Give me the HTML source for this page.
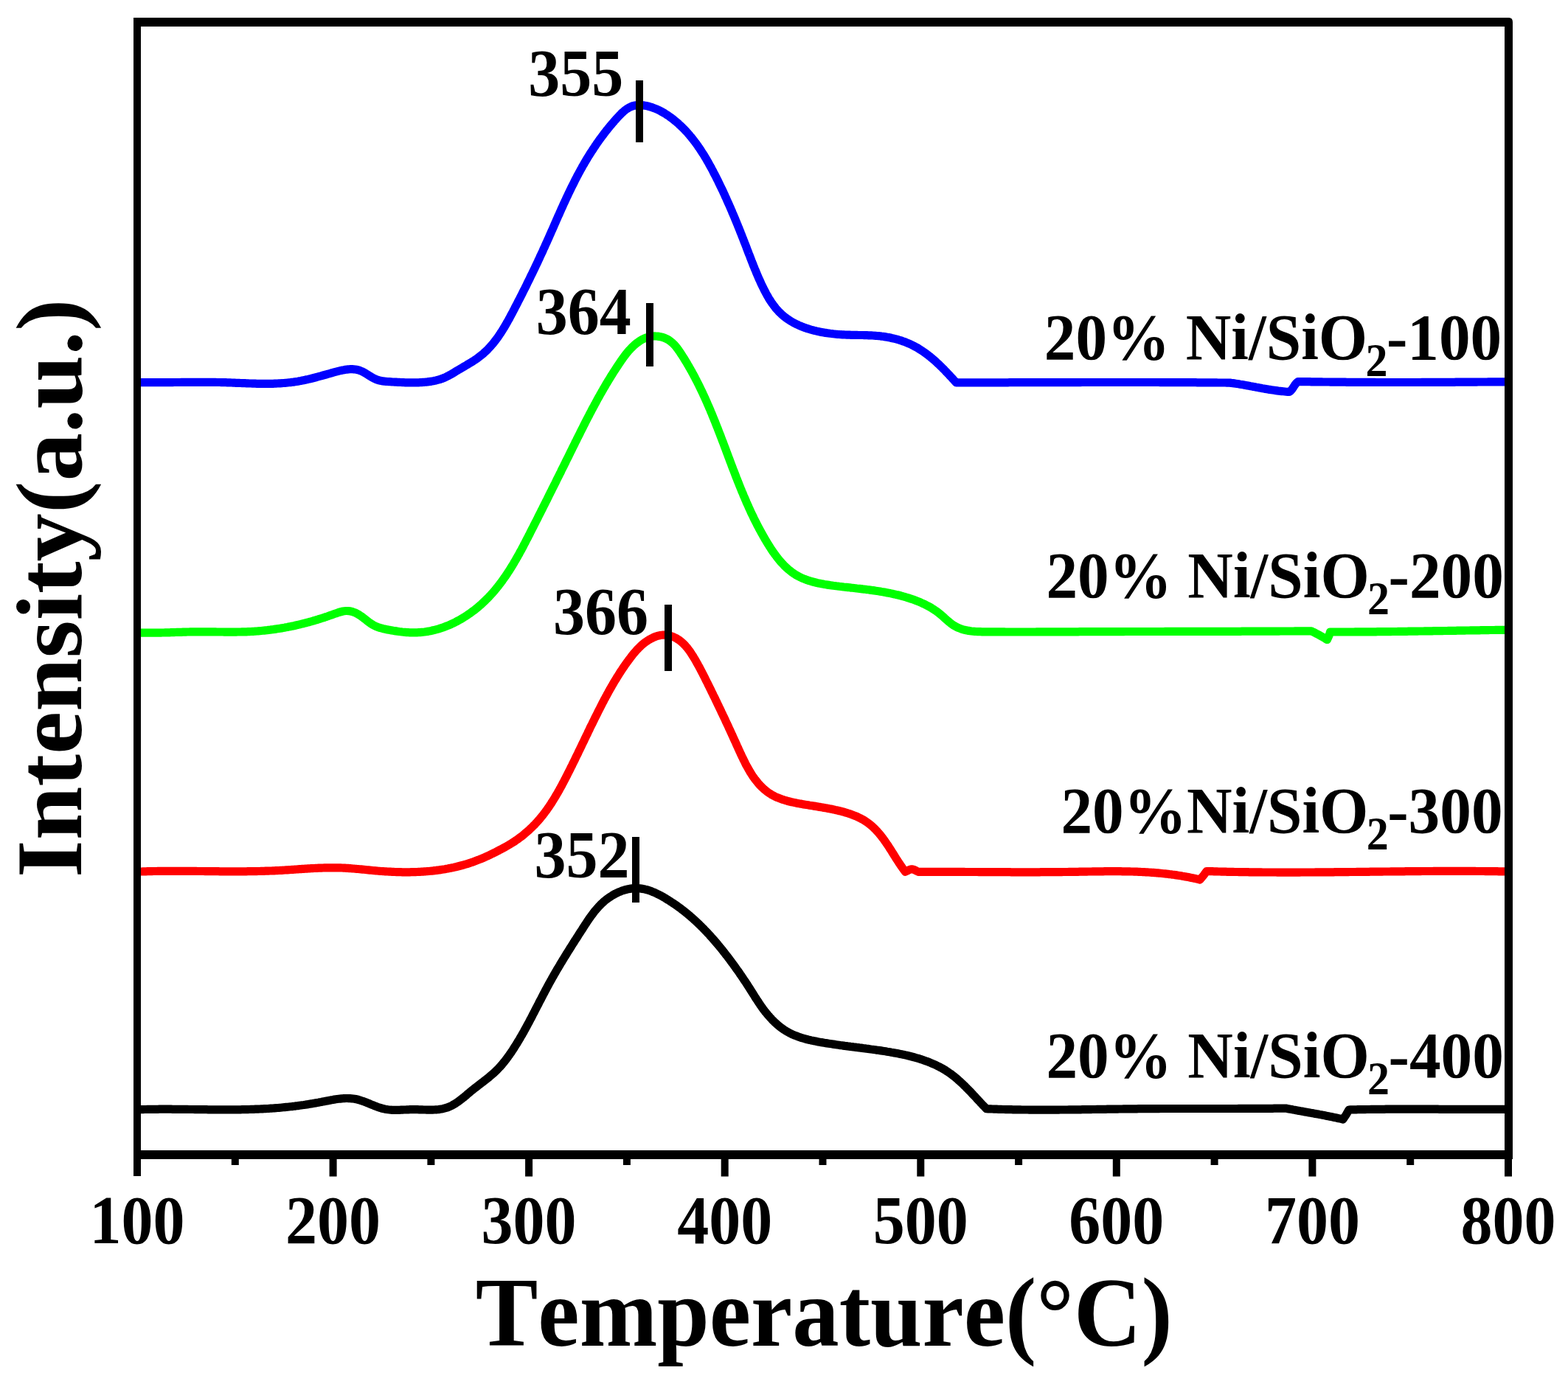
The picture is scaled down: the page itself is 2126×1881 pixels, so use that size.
<!DOCTYPE html>
<html><head><meta charset="utf-8"><title>TPR profiles</title>
<style>html,body{margin:0;padding:0;background:#fff;}svg{display:block;}</style>
</head><body>
<svg width="2126" height="1881" viewBox="0 0 2126 1881">
<rect x="0" y="0" width="2126" height="1881" fill="#fff"/>
<g fill="none" stroke-width="11.2" stroke-linejoin="round" stroke-linecap="butt">
<path d="M186.0,518.6 L188.0,518.6 L190.0,518.7 L192.0,518.7 L194.0,518.7 L196.0,518.7 L198.0,518.7 L200.0,518.7 L202.1,518.7 L204.1,518.7 L206.1,518.7 L208.1,518.7 L210.1,518.7 L212.1,518.7 L214.1,518.7 L216.1,518.7 L218.1,518.7 L220.1,518.7 L222.1,518.7 L224.1,518.6 L226.1,518.6 L228.1,518.6 L230.1,518.6 L232.1,518.6 L234.1,518.6 L236.1,518.5 L238.1,518.5 L240.1,518.5 L242.1,518.5 L244.1,518.5 L246.1,518.4 L248.1,518.4 L250.1,518.4 L252.1,518.4 L254.1,518.4 L256.1,518.3 L258.1,518.3 L260.1,518.3 L262.1,518.3 L264.1,518.3 L266.1,518.3 L268.1,518.3 L270.1,518.3 L272.1,518.3 L274.1,518.3 L276.1,518.3 L278.1,518.3 L280.1,518.3 L282.1,518.3 L284.1,518.3 L286.1,518.3 L288.1,518.4 L290.1,518.4 L292.1,518.4 L294.1,518.5 L296.1,518.5 L298.1,518.5 L300.1,518.6 L302.1,518.6 L304.1,518.7 L306.1,518.7 L308.1,518.8 L310.1,518.9 L312.1,518.9 L314.1,519.0 L316.1,519.1 L318.1,519.2 L320.1,519.3 L322.1,519.3 L324.2,519.4 L326.2,519.5 L328.2,519.6 L330.2,519.7 L332.2,519.7 L334.2,519.8 L336.2,519.9 L338.2,520.0 L340.2,520.0 L342.2,520.1 L344.2,520.2 L346.2,520.2 L348.2,520.3 L350.2,520.3 L352.2,520.3 L354.2,520.4 L356.2,520.4 L358.2,520.4 L360.2,520.4 L362.2,520.4 L364.2,520.4 L366.2,520.3 L368.2,520.3 L370.2,520.3 L372.2,520.2 L374.2,520.1 L376.2,520.0 L378.2,519.9 L380.2,519.8 L382.2,519.7 L384.1,519.5 L386.1,519.4 L388.1,519.2 L390.1,519.0 L392.1,518.8 L394.0,518.6 L396.0,518.3 L398.0,518.1 L400.0,517.8 L401.9,517.5 L403.9,517.2 L405.9,516.8 L407.8,516.5 L409.8,516.1 L411.7,515.7 L413.7,515.3 L415.7,514.8 L417.6,514.4 L419.6,513.9 L421.5,513.5 L423.5,513.0 L425.4,512.5 L427.4,512.0 L429.3,511.5 L431.3,510.9 L433.2,510.4 L435.2,509.9 L437.1,509.3 L439.1,508.8 L441.0,508.2 L443.0,507.7 L444.9,507.1 L446.9,506.6 L448.8,506.0 L450.8,505.5 L452.7,504.9 L454.7,504.4 L456.7,503.9 L458.6,503.4 L460.6,502.9 L462.5,502.4 L464.5,502.0 L466.4,501.7 L468.3,501.3 L470.2,501.1 L472.2,500.9 L474.1,500.7 L476.0,500.7 L477.8,500.7 L479.7,500.8 L481.6,501.0 L483.4,501.3 L485.2,501.7 L487.1,502.2 L488.8,502.9 L490.6,503.6 L492.4,504.5 L494.1,505.4 L495.9,506.5 L497.6,507.5 L499.3,508.6 L501.1,509.7 L502.8,510.8 L504.6,511.9 L506.3,512.8 L508.1,513.7 L510.0,514.5 L511.8,515.2 L513.7,515.8 L515.6,516.2 L517.5,516.6 L519.4,516.9 L521.4,517.2 L523.3,517.3 L525.3,517.5 L527.3,517.6 L529.3,517.7 L531.3,517.9 L533.3,518.0 L535.3,518.1 L537.3,518.2 L539.3,518.3 L541.4,518.4 L543.4,518.5 L545.4,518.6 L547.4,518.7 L549.4,518.8 L551.5,518.8 L553.5,518.9 L555.5,518.9 L557.5,518.9 L559.5,518.9 L561.6,518.9 L563.6,518.9 L565.6,518.8 L567.6,518.8 L569.6,518.7 L571.6,518.6 L573.6,518.4 L575.6,518.3 L577.6,518.1 L579.6,517.9 L581.5,517.6 L583.5,517.4 L585.4,517.0 L587.4,516.7 L589.3,516.3 L591.2,515.9 L593.1,515.4 L595.0,514.9 L596.9,514.3 L598.8,513.7 L600.6,513.0 L602.4,512.3 L604.2,511.5 L605.9,510.6 L607.7,509.7 L609.4,508.8 L611.2,507.8 L612.9,506.8 L614.6,505.8 L616.3,504.8 L618.0,503.7 L619.8,502.7 L621.5,501.6 L623.3,500.6 L625.0,499.6 L626.8,498.6 L628.5,497.5 L630.3,496.5 L632.0,495.5 L633.8,494.4 L635.5,493.4 L637.3,492.3 L639.0,491.3 L640.7,490.2 L642.4,489.1 L644.1,488.0 L645.8,486.9 L647.4,485.7 L649.0,484.5 L650.6,483.3 L652.2,482.1 L653.7,480.8 L655.2,479.6 L656.7,478.2 L658.1,476.9 L659.6,475.6 L661.0,474.2 L662.3,472.8 L663.7,471.3 L665.0,469.9 L666.3,468.4 L667.6,466.9 L668.9,465.4 L670.1,463.8 L671.3,462.3 L672.5,460.7 L673.7,459.1 L674.9,457.5 L676.0,455.9 L677.1,454.2 L678.2,452.6 L679.3,450.9 L680.4,449.2 L681.5,447.5 L682.5,445.8 L683.6,444.1 L684.6,442.4 L685.6,440.7 L686.6,438.9 L687.6,437.2 L688.6,435.4 L689.6,433.6 L690.6,431.9 L691.5,430.1 L692.5,428.3 L693.4,426.5 L694.4,424.7 L695.3,423.0 L696.2,421.2 L697.2,419.4 L698.1,417.6 L699.0,415.8 L700.0,414.0 L700.9,412.2 L701.8,410.4 L702.7,408.6 L703.6,406.9 L704.6,405.1 L705.5,403.3 L706.4,401.5 L707.3,399.7 L708.2,397.9 L709.1,396.1 L710.0,394.3 L710.9,392.5 L711.8,390.8 L712.7,389.0 L713.6,387.2 L714.4,385.4 L715.3,383.6 L716.2,381.8 L717.1,380.0 L718.0,378.2 L718.8,376.4 L719.7,374.6 L720.6,372.8 L721.5,371.0 L722.3,369.3 L723.2,367.5 L724.0,365.7 L724.9,363.9 L725.8,362.1 L726.6,360.3 L727.5,358.5 L728.3,356.7 L729.2,354.9 L730.0,353.0 L730.9,351.2 L731.7,349.4 L732.5,347.6 L733.4,345.8 L734.2,344.0 L735.1,342.2 L735.9,340.4 L736.7,338.6 L737.5,336.7 L738.4,334.9 L739.2,333.1 L740.0,331.3 L740.8,329.5 L741.7,327.6 L742.5,325.8 L743.3,324.0 L744.1,322.2 L744.9,320.3 L745.7,318.5 L746.5,316.7 L747.3,314.8 L748.1,313.0 L749.0,311.2 L749.8,309.3 L750.6,307.5 L751.4,305.6 L752.2,303.8 L753.0,302.0 L753.8,300.1 L754.6,298.3 L755.4,296.5 L756.2,294.6 L757.0,292.8 L757.9,291.0 L758.7,289.1 L759.5,287.3 L760.3,285.5 L761.1,283.6 L762.0,281.8 L762.8,280.0 L763.6,278.1 L764.4,276.3 L765.3,274.5 L766.1,272.7 L767.0,270.8 L767.8,269.0 L768.6,267.2 L769.5,265.4 L770.4,263.6 L771.2,261.8 L772.1,260.0 L772.9,258.2 L773.8,256.4 L774.7,254.6 L775.6,252.8 L776.5,251.0 L777.4,249.2 L778.3,247.4 L779.2,245.6 L780.1,243.8 L781.0,242.0 L781.9,240.3 L782.8,238.5 L783.8,236.7 L784.7,235.0 L785.7,233.2 L786.6,231.5 L787.6,229.7 L788.6,228.0 L789.5,226.2 L790.5,224.5 L791.5,222.8 L792.5,221.1 L793.5,219.3 L794.5,217.6 L795.6,215.9 L796.6,214.2 L797.6,212.5 L798.7,210.8 L799.7,209.1 L800.8,207.4 L801.9,205.7 L803.0,204.1 L804.1,202.4 L805.2,200.7 L806.3,199.1 L807.4,197.4 L808.5,195.8 L809.6,194.1 L810.8,192.5 L811.9,190.9 L813.1,189.2 L814.3,187.6 L815.5,186.0 L816.7,184.4 L817.9,182.8 L819.1,181.2 L820.3,179.6 L821.5,178.0 L822.8,176.4 L824.0,174.9 L825.3,173.3 L826.6,171.7 L827.9,170.2 L829.2,168.6 L830.5,167.1 L831.8,165.6 L833.1,164.0 L834.5,162.5 L835.8,161.0 L837.2,159.5 L838.6,158.0 L840.0,156.5 L841.4,155.1 L842.8,153.6 L844.3,152.3 L845.7,151.0 L847.3,149.7 L848.8,148.5 L850.4,147.4 L852.0,146.4 L853.7,145.5 L855.4,144.7 L857.1,144.0 L858.9,143.5 L860.8,143.1 L862.7,142.8 L864.6,142.6 L866.5,142.5 L868.5,142.6 L870.5,142.7 L872.5,142.9 L874.5,143.2 L876.5,143.6 L878.4,144.0 L880.4,144.5 L882.3,145.1 L884.3,145.7 L886.2,146.4 L888.0,147.1 L889.9,147.9 L891.8,148.7 L893.6,149.6 L895.4,150.5 L897.2,151.5 L899.0,152.5 L900.8,153.5 L902.5,154.6 L904.2,155.7 L905.9,156.8 L907.6,158.0 L909.2,159.2 L910.9,160.4 L912.5,161.6 L914.1,162.9 L915.6,164.2 L917.2,165.5 L918.7,166.8 L920.2,168.1 L921.6,169.5 L923.1,170.8 L924.5,172.2 L926.0,173.6 L927.4,175.0 L928.7,176.4 L930.1,177.9 L931.4,179.3 L932.8,180.8 L934.1,182.3 L935.3,183.8 L936.6,185.3 L937.9,186.9 L939.1,188.4 L940.3,190.0 L941.5,191.5 L942.7,193.1 L943.9,194.7 L945.1,196.3 L946.2,197.9 L947.3,199.6 L948.5,201.2 L949.6,202.9 L950.6,204.5 L951.7,206.2 L952.8,207.9 L953.9,209.5 L954.9,211.2 L955.9,212.9 L957.0,214.7 L958.0,216.4 L959.0,218.1 L960.0,219.8 L961.0,221.6 L961.9,223.3 L962.9,225.1 L963.9,226.8 L964.8,228.6 L965.8,230.4 L966.7,232.1 L967.6,233.9 L968.5,235.7 L969.5,237.5 L970.4,239.3 L971.3,241.1 L972.2,242.9 L973.1,244.6 L974.0,246.4 L974.8,248.3 L975.7,250.1 L976.6,251.9 L977.5,253.7 L978.3,255.5 L979.2,257.3 L980.1,259.1 L980.9,260.9 L981.8,262.8 L982.6,264.6 L983.4,266.4 L984.3,268.2 L985.1,270.1 L985.9,271.9 L986.7,273.7 L987.5,275.6 L988.4,277.4 L989.2,279.3 L990.0,281.1 L990.8,282.9 L991.6,284.8 L992.4,286.6 L993.1,288.5 L993.9,290.3 L994.7,292.2 L995.5,294.0 L996.3,295.9 L997.0,297.7 L997.8,299.6 L998.6,301.4 L999.3,303.3 L1000.1,305.1 L1000.8,307.0 L1001.6,308.8 L1002.3,310.7 L1003.1,312.6 L1003.8,314.4 L1004.5,316.3 L1005.3,318.1 L1006.0,320.0 L1006.7,321.8 L1007.5,323.7 L1008.2,325.6 L1008.9,327.4 L1009.6,329.3 L1010.4,331.1 L1011.1,333.0 L1011.8,334.8 L1012.5,336.7 L1013.2,338.6 L1013.9,340.4 L1014.6,342.3 L1015.3,344.1 L1016.1,346.0 L1016.8,347.8 L1017.5,349.7 L1018.2,351.5 L1018.9,353.4 L1019.6,355.2 L1020.4,357.1 L1021.1,358.9 L1021.8,360.8 L1022.6,362.6 L1023.3,364.5 L1024.1,366.3 L1024.9,368.2 L1025.6,370.0 L1026.4,371.9 L1027.2,373.7 L1028.0,375.6 L1028.8,377.4 L1029.6,379.3 L1030.5,381.1 L1031.3,383.0 L1032.1,384.8 L1033.0,386.7 L1033.9,388.5 L1034.8,390.3 L1035.7,392.2 L1036.6,394.0 L1037.6,395.8 L1038.5,397.6 L1039.5,399.4 L1040.5,401.2 L1041.5,402.9 L1042.5,404.7 L1043.6,406.4 L1044.7,408.1 L1045.8,409.8 L1046.9,411.4 L1048.1,413.0 L1049.3,414.6 L1050.5,416.2 L1051.7,417.8 L1053.0,419.3 L1054.3,420.7 L1055.6,422.2 L1057.0,423.6 L1058.4,424.9 L1059.8,426.3 L1061.2,427.5 L1062.7,428.8 L1064.2,430.0 L1065.8,431.2 L1067.4,432.3 L1069.0,433.4 L1070.6,434.5 L1072.2,435.5 L1073.9,436.5 L1075.6,437.5 L1077.4,438.4 L1079.1,439.3 L1080.9,440.1 L1082.7,441.0 L1084.5,441.8 L1086.3,442.5 L1088.2,443.3 L1090.0,444.0 L1091.9,444.7 L1093.8,445.3 L1095.7,445.9 L1097.6,446.5 L1099.6,447.1 L1101.5,447.6 L1103.5,448.2 L1105.5,448.6 L1107.5,449.1 L1109.5,449.6 L1111.5,450.0 L1113.5,450.4 L1115.5,450.7 L1117.5,451.1 L1119.5,451.4 L1121.6,451.7 L1123.6,452.0 L1125.6,452.3 L1127.7,452.5 L1129.7,452.8 L1131.8,453.0 L1133.8,453.2 L1135.8,453.4 L1137.9,453.5 L1139.9,453.7 L1141.9,453.8 L1144.0,453.9 L1146.0,454.0 L1148.0,454.1 L1150.0,454.2 L1152.0,454.2 L1154.0,454.3 L1156.0,454.3 L1157.9,454.4 L1159.9,454.4 L1161.9,454.4 L1163.9,454.5 L1165.8,454.5 L1167.8,454.5 L1169.7,454.5 L1171.7,454.6 L1173.7,454.6 L1175.6,454.7 L1177.6,454.8 L1179.5,454.8 L1181.5,454.9 L1183.4,455.0 L1185.4,455.2 L1187.3,455.3 L1189.3,455.5 L1191.3,455.6 L1193.2,455.8 L1195.2,456.1 L1197.2,456.3 L1199.1,456.6 L1201.1,456.9 L1203.1,457.3 L1205.1,457.6 L1207.1,458.0 L1209.0,458.5 L1211.0,458.9 L1213.0,459.4 L1214.9,459.9 L1216.9,460.4 L1218.8,461.0 L1220.8,461.6 L1222.7,462.2 L1224.6,462.9 L1226.5,463.6 L1228.4,464.3 L1230.3,465.1 L1232.1,465.9 L1234.0,466.7 L1235.8,467.5 L1237.6,468.4 L1239.4,469.3 L1241.1,470.3 L1242.9,471.2 L1244.6,472.2 L1246.3,473.3 L1248.0,474.3 L1249.6,475.4 L1251.3,476.5 L1252.9,477.6 L1254.6,478.8 L1256.2,480.0 L1257.8,481.2 L1259.3,482.4 L1260.9,483.6 L1262.4,484.9 L1264.0,486.2 L1265.5,487.5 L1267.0,488.8 L1268.5,490.1 L1270.0,491.5 L1271.4,492.8 L1272.9,494.2 L1274.4,495.6 L1275.8,497.0 L1277.2,498.4 L1278.6,499.8 L1280.1,501.2 L1281.5,502.7 L1282.8,504.1 L1284.2,505.6 L1285.6,507.0 L1287.0,508.5 L1288.3,510.0 L1289.7,511.4 L1291.0,512.9 L1292.4,514.4 L1293.7,515.9 L1295.1,517.3 L1296.4,518.8 L1298.4,518.8 L1300.4,518.8 L1302.4,518.8 L1304.4,518.8 L1306.4,518.8 L1308.4,518.8 L1310.4,518.8 L1312.4,518.8 L1314.4,518.8 L1316.5,518.8 L1318.5,518.8 L1320.5,518.8 L1322.5,518.8 L1324.5,518.8 L1326.5,518.8 L1328.5,518.8 L1330.5,518.8 L1332.5,518.8 L1334.5,518.8 L1336.5,518.8 L1338.5,518.8 L1340.5,518.8 L1342.5,518.8 L1344.5,518.8 L1346.5,518.8 L1348.5,518.8 L1350.5,518.8 L1352.6,518.8 L1354.6,518.8 L1356.6,518.8 L1358.6,518.8 L1360.6,518.8 L1362.6,518.8 L1364.6,518.8 L1366.6,518.8 L1368.6,518.7 L1370.6,518.7 L1372.6,518.7 L1374.6,518.7 L1376.6,518.7 L1378.6,518.7 L1380.6,518.7 L1382.6,518.7 L1384.6,518.7 L1386.6,518.7 L1388.6,518.7 L1390.7,518.7 L1392.7,518.7 L1394.7,518.7 L1396.7,518.7 L1398.7,518.7 L1400.7,518.7 L1402.7,518.7 L1404.7,518.7 L1406.7,518.7 L1408.7,518.7 L1410.7,518.7 L1412.7,518.7 L1414.7,518.7 L1416.7,518.7 L1418.7,518.6 L1420.7,518.6 L1422.7,518.6 L1424.7,518.6 L1426.8,518.6 L1428.8,518.6 L1430.8,518.6 L1432.8,518.6 L1434.8,518.6 L1436.8,518.6 L1438.8,518.6 L1440.8,518.6 L1442.8,518.6 L1444.8,518.6 L1446.8,518.6 L1448.8,518.6 L1450.8,518.6 L1452.8,518.6 L1454.8,518.6 L1456.8,518.6 L1458.8,518.6 L1460.8,518.6 L1462.8,518.6 L1464.9,518.6 L1466.9,518.5 L1468.9,518.5 L1470.9,518.5 L1472.9,518.5 L1474.9,518.5 L1476.9,518.5 L1478.9,518.5 L1480.9,518.5 L1482.9,518.5 L1484.9,518.5 L1486.9,518.5 L1488.9,518.5 L1490.9,518.5 L1492.9,518.5 L1494.9,518.5 L1496.9,518.5 L1498.9,518.5 L1501.0,518.5 L1503.0,518.5 L1505.0,518.5 L1507.0,518.5 L1509.0,518.5 L1511.0,518.5 L1513.0,518.5 L1515.0,518.5 L1517.0,518.5 L1519.0,518.5 L1521.0,518.5 L1523.0,518.5 L1525.0,518.5 L1527.0,518.5 L1529.0,518.5 L1531.0,518.5 L1533.0,518.5 L1535.0,518.5 L1537.0,518.5 L1539.1,518.5 L1541.1,518.5 L1543.1,518.5 L1545.1,518.5 L1547.1,518.5 L1549.1,518.5 L1551.1,518.5 L1553.1,518.5 L1555.1,518.5 L1557.1,518.5 L1559.1,518.5 L1561.1,518.5 L1563.1,518.5 L1565.1,518.5 L1567.1,518.5 L1569.1,518.5 L1571.1,518.5 L1573.1,518.6 L1575.2,518.6 L1577.2,518.6 L1579.2,518.6 L1581.2,518.6 L1583.2,518.6 L1585.2,518.6 L1587.2,518.6 L1589.2,518.6 L1591.2,518.6 L1593.2,518.6 L1595.2,518.6 L1597.2,518.6 L1599.2,518.6 L1601.2,518.6 L1603.2,518.7 L1605.2,518.7 L1607.2,518.7 L1609.2,518.7 L1611.2,518.7 L1613.3,518.7 L1615.3,518.7 L1617.3,518.7 L1619.3,518.7 L1621.3,518.7 L1623.3,518.8 L1625.3,518.8 L1627.3,518.8 L1629.3,518.8 L1631.3,518.8 L1633.3,518.8 L1635.3,518.8 L1637.3,518.9 L1639.3,518.9 L1641.3,518.9 L1643.3,518.9 L1645.3,518.9 L1647.3,518.9 L1649.4,518.9 L1651.4,519.0 L1653.4,519.0 L1655.4,519.0 L1657.4,519.0 L1659.4,519.0 L1661.4,519.0 L1663.4,519.1 L1665.4,519.1 L1667.4,519.1 L1669.4,519.4 L1671.4,519.6 L1673.5,519.9 L1675.5,520.2 L1677.5,520.5 L1679.5,520.8 L1681.5,521.2 L1683.5,521.5 L1685.5,521.8 L1687.5,522.2 L1689.6,522.6 L1691.6,522.9 L1693.6,523.3 L1695.6,523.7 L1697.6,524.0 L1699.6,524.4 L1701.6,524.8 L1703.6,525.2 L1705.6,525.5 L1707.6,525.9 L1709.6,526.3 L1711.6,526.7 L1713.6,527.0 L1715.7,527.4 L1717.7,527.7 L1719.7,528.1 L1721.7,528.4 L1723.7,528.7 L1725.7,529.0 L1727.7,529.3 L1729.8,529.6 L1731.8,529.9 L1733.8,530.2 L1735.8,530.4 L1737.8,530.6 L1739.9,530.8 L1741.9,531.0 L1743.9,531.2 L1746.0,531.4 L1748.0,531.5 L1749.7,530.2 L1751.1,528.8 L1752.4,527.2 L1753.5,525.4 L1754.6,523.7 L1755.7,522.0 L1757.0,520.3 L1758.4,518.8 L1760.0,517.5 L1762.0,517.5 L1764.0,517.6 L1766.0,517.6 L1768.0,517.6 L1770.0,517.6 L1772.0,517.7 L1774.0,517.7 L1776.0,517.7 L1778.0,517.8 L1780.0,517.8 L1782.0,517.8 L1784.0,517.8 L1786.0,517.9 L1788.0,517.9 L1790.0,517.9 L1792.0,517.9 L1794.0,518.0 L1796.0,518.0 L1798.0,518.0 L1800.0,518.0 L1802.0,518.0 L1804.0,518.1 L1806.0,518.1 L1808.0,518.1 L1810.0,518.1 L1812.0,518.1 L1814.0,518.2 L1816.0,518.2 L1818.0,518.2 L1820.0,518.2 L1822.0,518.2 L1824.0,518.2 L1826.0,518.3 L1828.0,518.3 L1830.0,518.3 L1832.0,518.3 L1834.0,518.3 L1836.0,518.3 L1838.0,518.3 L1840.0,518.3 L1842.0,518.4 L1844.0,518.4 L1846.0,518.4 L1848.0,518.4 L1850.0,518.4 L1852.0,518.4 L1854.0,518.4 L1856.0,518.4 L1858.0,518.4 L1860.0,518.4 L1862.0,518.4 L1864.0,518.4 L1866.0,518.5 L1868.0,518.5 L1870.0,518.5 L1872.0,518.5 L1874.0,518.5 L1876.0,518.5 L1878.0,518.5 L1880.0,518.5 L1882.0,518.5 L1884.0,518.5 L1886.0,518.5 L1888.0,518.5 L1890.0,518.5 L1892.0,518.5 L1894.0,518.5 L1896.0,518.5 L1898.0,518.5 L1900.0,518.5 L1902.0,518.5 L1904.0,518.5 L1906.0,518.5 L1908.0,518.5 L1910.0,518.5 L1912.0,518.5 L1914.0,518.5 L1916.0,518.5 L1918.0,518.5 L1920.0,518.5 L1922.0,518.5 L1924.0,518.5 L1926.0,518.5 L1928.0,518.4 L1930.0,518.4 L1932.0,518.4 L1934.0,518.4 L1936.0,518.4 L1938.0,518.4 L1940.0,518.4 L1942.0,518.4 L1944.0,518.4 L1946.0,518.4 L1948.0,518.4 L1950.0,518.4 L1952.0,518.4 L1954.0,518.4 L1956.0,518.3 L1958.0,518.3 L1960.0,518.3 L1962.0,518.3 L1964.0,518.3 L1966.0,518.3 L1968.0,518.3 L1970.0,518.3 L1972.0,518.3 L1974.0,518.2 L1976.0,518.2 L1978.0,518.2 L1980.0,518.2 L1982.0,518.2 L1984.0,518.2 L1986.0,518.2 L1988.0,518.2 L1990.0,518.1 L1992.0,518.1 L1994.0,518.1 L1996.0,518.1 L1998.0,518.1 L2000.0,518.1 L2002.0,518.1 L2004.0,518.0 L2006.0,518.0 L2008.0,518.0 L2010.0,518.0 L2012.0,518.0 L2014.0,518.0 L2016.0,518.0 L2018.0,517.9 L2020.0,517.9 L2022.0,517.9 L2024.0,517.9 L2026.0,517.9 L2028.0,517.9 L2030.0,517.8 L2032.0,517.8 L2034.0,517.8 L2036.0,517.8 L2038.0,517.8 L2040.0,517.8 L2042.0,517.7 L2044.0,517.7 L2046.0,517.7" stroke="#0000ff"/>
<path d="M186.0,857.9 L188.0,858.0 L190.0,858.0 L192.0,858.1 L194.0,858.1 L196.1,858.2 L198.1,858.2 L200.1,858.2 L202.1,858.2 L204.1,858.2 L206.1,858.2 L208.1,858.2 L210.1,858.2 L212.1,858.2 L214.1,858.2 L216.1,858.1 L218.1,858.1 L220.1,858.0 L222.1,858.0 L224.1,857.9 L226.0,857.9 L228.0,857.8 L230.0,857.8 L232.0,857.7 L234.0,857.6 L236.0,857.6 L238.0,857.5 L240.0,857.4 L242.0,857.4 L244.0,857.3 L246.0,857.3 L248.0,857.2 L250.0,857.1 L252.0,857.1 L254.0,857.0 L256.0,857.0 L258.0,856.9 L260.0,856.9 L262.0,856.9 L264.0,856.8 L266.0,856.8 L268.0,856.8 L270.0,856.8 L272.0,856.8 L274.0,856.8 L276.0,856.8 L278.0,856.8 L280.0,856.8 L282.0,856.8 L284.0,856.8 L286.0,856.9 L288.0,856.9 L290.0,856.9 L292.1,856.9 L294.1,857.0 L296.1,857.0 L298.1,857.0 L300.1,857.0 L302.1,857.0 L304.1,857.1 L306.1,857.1 L308.1,857.1 L310.1,857.1 L312.2,857.1 L314.2,857.1 L316.2,857.1 L318.2,857.1 L320.2,857.1 L322.2,857.0 L324.2,857.0 L326.2,857.0 L328.2,856.9 L330.2,856.9 L332.2,856.8 L334.2,856.8 L336.2,856.7 L338.2,856.6 L340.2,856.5 L342.2,856.4 L344.2,856.3 L346.2,856.1 L348.2,856.0 L350.1,855.8 L352.1,855.7 L354.1,855.5 L356.1,855.3 L358.1,855.1 L360.0,854.9 L362.0,854.7 L364.0,854.4 L366.0,854.2 L367.9,853.9 L369.9,853.7 L371.9,853.4 L373.9,853.1 L375.8,852.8 L377.8,852.5 L379.8,852.2 L381.7,851.9 L383.7,851.5 L385.6,851.2 L387.6,850.8 L389.6,850.5 L391.5,850.1 L393.5,849.7 L395.4,849.3 L397.4,848.9 L399.3,848.5 L401.3,848.0 L403.2,847.6 L405.2,847.1 L407.1,846.7 L409.0,846.2 L411.0,845.7 L412.9,845.2 L414.9,844.7 L416.8,844.2 L418.8,843.7 L420.7,843.1 L422.6,842.6 L424.6,842.0 L426.5,841.5 L428.4,840.9 L430.4,840.3 L432.3,839.7 L434.2,839.1 L436.1,838.5 L438.1,837.9 L440.0,837.3 L441.9,836.6 L443.8,836.0 L445.8,835.3 L447.7,834.6 L449.6,833.9 L451.5,833.2 L453.4,832.5 L455.4,831.9 L457.3,831.2 L459.2,830.5 L461.1,830.0 L463.0,829.5 L464.9,829.0 L466.8,828.7 L468.7,828.5 L470.6,828.5 L472.5,828.6 L474.4,828.8 L476.2,829.2 L478.1,829.7 L479.9,830.4 L481.8,831.1 L483.6,832.0 L485.3,832.9 L487.1,834.0 L488.8,835.1 L490.5,836.2 L492.2,837.5 L493.8,838.8 L495.5,840.0 L497.1,841.3 L498.7,842.6 L500.3,843.9 L502.0,845.0 L503.6,846.2 L505.3,847.2 L507.0,848.1 L508.7,849.0 L510.5,849.8 L512.3,850.5 L514.1,851.1 L515.9,851.7 L517.8,852.2 L519.6,852.7 L521.5,853.1 L523.4,853.5 L525.4,853.9 L527.3,854.2 L529.3,854.6 L531.2,854.9 L533.2,855.3 L535.2,855.6 L537.2,855.9 L539.2,856.2 L541.3,856.5 L543.3,856.7 L545.3,857.0 L547.3,857.2 L549.4,857.4 L551.4,857.6 L553.5,857.7 L555.5,857.8 L557.5,857.9 L559.5,857.9 L561.6,857.9 L563.6,857.9 L565.6,857.8 L567.6,857.7 L569.6,857.6 L571.6,857.4 L573.6,857.2 L575.5,857.0 L577.5,856.7 L579.5,856.4 L581.4,856.0 L583.4,855.7 L585.3,855.3 L587.3,854.8 L589.2,854.3 L591.1,853.8 L593.0,853.3 L594.9,852.8 L596.8,852.2 L598.7,851.6 L600.6,850.9 L602.5,850.2 L604.3,849.5 L606.2,848.8 L608.0,848.1 L609.8,847.3 L611.7,846.5 L613.5,845.6 L615.3,844.8 L617.1,843.9 L618.8,843.0 L620.6,842.0 L622.3,841.1 L624.1,840.1 L625.8,839.1 L627.5,838.1 L629.2,837.0 L630.9,836.0 L632.6,834.9 L634.3,833.8 L635.9,832.6 L637.6,831.5 L639.2,830.3 L640.8,829.1 L642.4,827.9 L644.0,826.7 L645.5,825.4 L647.1,824.2 L648.6,822.9 L650.2,821.6 L651.7,820.3 L653.2,818.9 L654.6,817.6 L656.1,816.2 L657.5,814.8 L659.0,813.4 L660.4,812.0 L661.8,810.6 L663.2,809.2 L664.5,807.7 L665.9,806.2 L667.2,804.8 L668.5,803.3 L669.8,801.8 L671.1,800.3 L672.4,798.7 L673.6,797.2 L674.9,795.7 L676.1,794.1 L677.3,792.5 L678.5,791.0 L679.7,789.4 L680.9,787.8 L682.0,786.2 L683.2,784.5 L684.3,782.9 L685.5,781.3 L686.6,779.6 L687.7,778.0 L688.8,776.3 L689.9,774.6 L691.0,773.0 L692.0,771.3 L693.1,769.6 L694.1,767.9 L695.2,766.2 L696.2,764.5 L697.2,762.7 L698.2,761.0 L699.2,759.3 L700.2,757.6 L701.2,755.8 L702.2,754.1 L703.2,752.3 L704.2,750.6 L705.1,748.8 L706.1,747.0 L707.1,745.3 L708.0,743.5 L709.0,741.7 L709.9,739.9 L710.8,738.2 L711.8,736.4 L712.7,734.6 L713.6,732.8 L714.5,731.0 L715.5,729.2 L716.4,727.4 L717.3,725.7 L718.2,723.9 L719.1,722.1 L720.0,720.3 L720.9,718.5 L721.8,716.7 L722.8,714.9 L723.7,713.1 L724.6,711.3 L725.5,709.5 L726.4,707.7 L727.3,706.0 L728.2,704.2 L729.1,702.4 L730.0,700.6 L730.9,698.8 L731.8,697.0 L732.7,695.2 L733.6,693.4 L734.5,691.7 L735.4,689.9 L736.3,688.1 L737.2,686.3 L738.1,684.5 L739.0,682.7 L739.9,680.9 L740.8,679.2 L741.7,677.4 L742.6,675.6 L743.5,673.8 L744.3,672.0 L745.2,670.2 L746.1,668.4 L747.0,666.7 L747.9,664.9 L748.8,663.1 L749.7,661.3 L750.6,659.5 L751.5,657.7 L752.4,656.0 L753.3,654.2 L754.1,652.4 L755.0,650.6 L755.9,648.8 L756.8,647.0 L757.7,645.2 L758.6,643.4 L759.5,641.7 L760.4,639.9 L761.2,638.1 L762.1,636.3 L763.0,634.5 L763.9,632.7 L764.8,630.9 L765.7,629.1 L766.6,627.4 L767.4,625.6 L768.3,623.8 L769.2,622.0 L770.1,620.2 L771.0,618.4 L771.9,616.6 L772.8,614.8 L773.6,613.0 L774.5,611.2 L775.4,609.4 L776.3,607.6 L777.2,605.8 L778.1,604.0 L779.0,602.2 L779.8,600.4 L780.7,598.7 L781.6,596.9 L782.5,595.1 L783.4,593.3 L784.3,591.5 L785.2,589.7 L786.1,587.9 L787.0,586.1 L787.9,584.3 L788.8,582.5 L789.7,580.7 L790.6,578.9 L791.5,577.1 L792.4,575.4 L793.3,573.6 L794.2,571.8 L795.1,570.0 L796.0,568.2 L797.0,566.4 L797.9,564.7 L798.8,562.9 L799.7,561.1 L800.7,559.3 L801.6,557.6 L802.5,555.8 L803.5,554.0 L804.4,552.2 L805.4,550.5 L806.3,548.7 L807.3,547.0 L808.2,545.2 L809.2,543.4 L810.1,541.7 L811.1,539.9 L812.1,538.2 L813.1,536.4 L814.0,534.7 L815.0,533.0 L816.0,531.2 L817.0,529.5 L818.0,527.7 L819.0,526.0 L820.0,524.3 L821.0,522.6 L822.0,520.8 L823.1,519.1 L824.1,517.4 L825.1,515.7 L826.2,514.0 L827.2,512.3 L828.2,510.6 L829.3,508.9 L830.4,507.2 L831.4,505.5 L832.5,503.8 L833.6,502.2 L834.7,500.5 L835.8,498.8 L836.9,497.1 L838.0,495.5 L839.1,493.8 L840.2,492.2 L841.3,490.5 L842.4,488.9 L843.6,487.2 L844.7,485.6 L845.9,484.0 L847.1,482.4 L848.3,480.8 L849.5,479.3 L850.8,477.7 L852.1,476.2 L853.4,474.7 L854.8,473.2 L856.1,471.8 L857.6,470.4 L859.0,469.0 L860.5,467.6 L862.1,466.3 L863.7,465.1 L865.3,463.9 L866.9,462.7 L868.6,461.6 L870.4,460.6 L872.2,459.7 L874.0,458.9 L875.8,458.1 L877.7,457.5 L879.7,456.9 L881.6,456.5 L883.6,456.2 L885.6,456.0 L887.7,455.9 L889.7,456.0 L891.7,456.1 L893.7,456.4 L895.7,456.8 L897.7,457.2 L899.6,457.8 L901.4,458.5 L903.3,459.3 L905.0,460.2 L906.7,461.2 L908.3,462.3 L909.8,463.4 L911.3,464.7 L912.7,466.0 L914.1,467.4 L915.4,468.8 L916.6,470.3 L917.9,471.9 L919.1,473.4 L920.2,475.1 L921.4,476.7 L922.5,478.4 L923.6,480.1 L924.7,481.8 L925.8,483.5 L926.9,485.2 L927.9,486.9 L929.0,488.6 L930.0,490.3 L931.1,492.0 L932.1,493.8 L933.1,495.5 L934.1,497.2 L935.1,499.0 L936.1,500.7 L937.1,502.5 L938.1,504.2 L939.0,506.0 L940.0,507.7 L940.9,509.5 L941.9,511.3 L942.8,513.1 L943.7,514.8 L944.6,516.6 L945.6,518.4 L946.5,520.2 L947.4,522.0 L948.2,523.8 L949.1,525.6 L950.0,527.4 L950.9,529.2 L951.7,531.0 L952.6,532.8 L953.4,534.6 L954.3,536.5 L955.1,538.3 L955.9,540.1 L956.8,541.9 L957.6,543.8 L958.4,545.6 L959.2,547.4 L960.0,549.3 L960.8,551.1 L961.6,553.0 L962.4,554.8 L963.2,556.6 L963.9,558.5 L964.7,560.3 L965.5,562.2 L966.2,564.1 L967.0,565.9 L967.8,567.8 L968.5,569.6 L969.3,571.5 L970.0,573.3 L970.7,575.2 L971.5,577.1 L972.2,578.9 L973.0,580.8 L973.7,582.7 L974.4,584.5 L975.1,586.4 L975.9,588.3 L976.6,590.1 L977.3,592.0 L978.0,593.9 L978.7,595.7 L979.4,597.6 L980.2,599.5 L980.9,601.4 L981.6,603.2 L982.3,605.1 L983.0,607.0 L983.7,608.8 L984.4,610.7 L985.1,612.6 L985.8,614.5 L986.5,616.3 L987.2,618.2 L987.9,620.1 L988.6,621.9 L989.3,623.8 L990.0,625.7 L990.7,627.5 L991.4,629.4 L992.1,631.3 L992.8,633.1 L993.5,635.0 L994.2,636.8 L995.0,638.7 L995.7,640.6 L996.4,642.4 L997.1,644.3 L997.8,646.1 L998.5,648.0 L999.3,649.8 L1000.0,651.7 L1000.7,653.5 L1001.5,655.4 L1002.2,657.2 L1002.9,659.1 L1003.7,660.9 L1004.4,662.8 L1005.2,664.6 L1005.9,666.5 L1006.7,668.3 L1007.5,670.1 L1008.2,672.0 L1009.0,673.8 L1009.8,675.6 L1010.6,677.5 L1011.4,679.3 L1012.1,681.1 L1013.0,683.0 L1013.8,684.8 L1014.6,686.6 L1015.4,688.4 L1016.2,690.2 L1017.1,692.1 L1017.9,693.9 L1018.7,695.7 L1019.6,697.5 L1020.5,699.3 L1021.3,701.1 L1022.2,702.9 L1023.1,704.7 L1024.0,706.5 L1024.9,708.3 L1025.8,710.1 L1026.7,711.9 L1027.6,713.6 L1028.6,715.4 L1029.5,717.2 L1030.5,719.0 L1031.4,720.7 L1032.4,722.5 L1033.4,724.3 L1034.4,726.1 L1035.4,727.8 L1036.4,729.6 L1037.4,731.3 L1038.5,733.1 L1039.5,734.8 L1040.6,736.6 L1041.6,738.3 L1042.7,740.0 L1043.8,741.8 L1044.9,743.5 L1046.0,745.2 L1047.2,746.9 L1048.3,748.6 L1049.5,750.2 L1050.7,751.9 L1051.9,753.5 L1053.1,755.1 L1054.3,756.7 L1055.6,758.3 L1056.9,759.8 L1058.1,761.4 L1059.5,762.9 L1060.8,764.3 L1062.2,765.8 L1063.5,767.2 L1064.9,768.6 L1066.4,769.9 L1067.8,771.2 L1069.3,772.5 L1070.8,773.7 L1072.3,774.9 L1073.8,776.1 L1075.4,777.2 L1077.0,778.3 L1078.6,779.3 L1080.3,780.3 L1082.0,781.2 L1083.7,782.1 L1085.4,783.0 L1087.2,783.8 L1089.0,784.6 L1090.8,785.3 L1092.6,786.0 L1094.4,786.7 L1096.3,787.3 L1098.2,787.9 L1100.1,788.5 L1102.0,789.0 L1103.9,789.5 L1105.9,790.0 L1107.8,790.5 L1109.8,790.9 L1111.8,791.3 L1113.8,791.7 L1115.8,792.1 L1117.8,792.5 L1119.8,792.8 L1121.8,793.1 L1123.8,793.4 L1125.8,793.7 L1127.8,794.0 L1129.8,794.3 L1131.9,794.5 L1133.9,794.8 L1135.9,795.0 L1137.9,795.3 L1139.9,795.5 L1141.9,795.7 L1143.9,796.0 L1145.9,796.2 L1147.9,796.4 L1149.9,796.6 L1151.9,796.8 L1153.9,797.1 L1155.8,797.3 L1157.8,797.5 L1159.8,797.7 L1161.8,798.0 L1163.7,798.2 L1165.7,798.4 L1167.7,798.6 L1169.7,798.9 L1171.6,799.1 L1173.6,799.3 L1175.5,799.6 L1177.5,799.8 L1179.5,800.1 L1181.4,800.4 L1183.4,800.6 L1185.4,800.9 L1187.3,801.2 L1189.3,801.5 L1191.2,801.8 L1193.2,802.1 L1195.2,802.5 L1197.1,802.8 L1199.1,803.1 L1201.1,803.5 L1203.0,803.9 L1205.0,804.2 L1207.0,804.6 L1209.0,805.1 L1210.9,805.5 L1212.9,805.9 L1214.9,806.4 L1216.8,806.8 L1218.8,807.3 L1220.8,807.8 L1222.7,808.3 L1224.7,808.9 L1226.6,809.4 L1228.6,810.0 L1230.5,810.6 L1232.4,811.2 L1234.3,811.8 L1236.2,812.4 L1238.1,813.1 L1240.0,813.8 L1241.9,814.5 L1243.8,815.2 L1245.6,815.9 L1247.4,816.7 L1249.2,817.5 L1251.0,818.3 L1252.8,819.1 L1254.6,820.0 L1256.3,820.9 L1258.1,821.8 L1259.8,822.7 L1261.5,823.7 L1263.2,824.7 L1264.8,825.7 L1266.5,826.8 L1268.1,827.9 L1269.8,829.0 L1271.4,830.2 L1273.0,831.5 L1274.6,832.7 L1276.1,834.0 L1277.7,835.4 L1279.3,836.8 L1280.8,838.2 L1282.4,839.6 L1283.9,841.0 L1285.5,842.3 L1287.1,843.7 L1288.7,845.0 L1290.3,846.2 L1292.0,847.4 L1293.6,848.4 L1295.3,849.4 L1297.1,850.4 L1298.8,851.2 L1300.6,851.9 L1302.4,852.6 L1304.2,853.3 L1306.1,853.8 L1307.9,854.3 L1309.8,854.7 L1311.7,855.1 L1313.6,855.4 L1315.6,855.7 L1317.5,856.0 L1319.5,856.2 L1321.4,856.3 L1323.4,856.5 L1325.4,856.6 L1327.4,856.7 L1329.4,856.7 L1331.4,856.8 L1333.4,856.8 L1335.5,856.8 L1337.5,856.8 L1339.5,856.9 L1341.5,856.9 L1343.5,856.9 L1345.5,856.9 L1347.6,856.9 L1349.6,856.9 L1351.6,856.9 L1353.6,856.9 L1355.6,856.9 L1357.6,856.9 L1359.6,856.9 L1361.6,856.9 L1363.6,857.0 L1365.7,857.0 L1367.7,857.0 L1369.7,857.0 L1371.7,857.0 L1373.7,857.0 L1375.7,857.0 L1377.7,857.0 L1379.7,857.0 L1381.7,857.0 L1383.7,857.0 L1385.7,857.0 L1387.7,857.0 L1389.7,857.0 L1391.7,857.0 L1393.8,857.0 L1395.8,857.0 L1397.8,857.0 L1399.8,857.0 L1401.8,857.0 L1403.8,857.0 L1405.8,856.9 L1407.8,856.9 L1409.8,856.9 L1411.8,856.9 L1413.8,856.9 L1415.8,856.9 L1417.8,856.9 L1419.8,856.9 L1421.8,856.9 L1423.8,856.9 L1425.8,856.9 L1427.8,856.9 L1429.8,856.9 L1431.8,856.9 L1433.8,856.9 L1435.8,856.9 L1437.8,856.8 L1439.8,856.8 L1441.8,856.8 L1443.8,856.8 L1445.8,856.8 L1447.8,856.8 L1449.8,856.8 L1451.8,856.8 L1453.8,856.8 L1455.8,856.8 L1457.8,856.8 L1459.8,856.8 L1461.8,856.8 L1463.8,856.7 L1465.8,856.7 L1467.8,856.7 L1469.8,856.7 L1471.7,856.7 L1473.7,856.7 L1475.7,856.7 L1477.7,856.7 L1479.7,856.7 L1481.7,856.7 L1483.7,856.7 L1485.7,856.7 L1487.7,856.7 L1489.7,856.6 L1491.7,856.6 L1493.7,856.6 L1495.7,856.6 L1497.7,856.6 L1499.7,856.6 L1501.7,856.6 L1503.7,856.6 L1505.7,856.6 L1507.7,856.6 L1509.7,856.6 L1511.7,856.6 L1513.7,856.6 L1515.7,856.6 L1517.7,856.6 L1519.7,856.6 L1521.7,856.6 L1523.7,856.6 L1525.7,856.5 L1527.7,856.5 L1529.7,856.5 L1531.7,856.5 L1533.7,856.5 L1535.7,856.5 L1537.7,856.5 L1539.7,856.5 L1541.7,856.5 L1543.7,856.5 L1545.7,856.5 L1547.7,856.5 L1549.8,856.5 L1551.8,856.5 L1553.8,856.5 L1555.8,856.5 L1557.8,856.5 L1559.8,856.5 L1561.8,856.5 L1563.8,856.5 L1565.8,856.5 L1567.8,856.5 L1569.8,856.5 L1571.8,856.5 L1573.8,856.5 L1575.8,856.5 L1577.8,856.5 L1579.8,856.4 L1581.8,856.4 L1583.8,856.4 L1585.8,856.4 L1587.8,856.4 L1589.8,856.4 L1591.8,856.4 L1593.8,856.4 L1595.8,856.4 L1597.8,856.4 L1599.8,856.4 L1601.8,856.4 L1603.8,856.4 L1605.8,856.4 L1607.8,856.4 L1609.8,856.4 L1611.8,856.4 L1613.8,856.4 L1615.8,856.4 L1617.8,856.4 L1619.8,856.4 L1621.8,856.4 L1623.8,856.4 L1625.8,856.4 L1627.8,856.4 L1629.8,856.4 L1631.8,856.4 L1633.8,856.4 L1635.8,856.4 L1637.8,856.4 L1639.8,856.4 L1641.8,856.3 L1643.8,856.3 L1645.9,856.3 L1647.9,856.3 L1649.9,856.3 L1651.9,856.3 L1653.9,856.3 L1655.9,856.3 L1657.9,856.3 L1659.9,856.3 L1661.9,856.3 L1663.9,856.3 L1665.9,856.3 L1667.9,856.3 L1669.9,856.3 L1671.9,856.3 L1673.9,856.3 L1675.9,856.3 L1677.9,856.3 L1679.9,856.3 L1681.9,856.3 L1683.9,856.2 L1685.9,856.2 L1687.9,856.2 L1689.9,856.2 L1691.9,856.2 L1693.9,856.2 L1695.9,856.2 L1697.9,856.2 L1699.9,856.2 L1701.9,856.2 L1703.9,856.2 L1705.9,856.2 L1707.9,856.2 L1709.9,856.2 L1711.9,856.2 L1713.9,856.1 L1715.9,856.1 L1717.9,856.1 L1719.9,856.1 L1721.9,856.1 L1723.9,856.1 L1725.9,856.1 L1727.9,856.1 L1729.9,856.1 L1731.9,856.1 L1733.9,856.1 L1735.9,856.0 L1737.9,856.0 L1739.9,856.0 L1741.9,856.0 L1743.9,856.0 L1745.9,856.0 L1747.9,856.0 L1749.9,856.0 L1751.9,856.0 L1753.9,856.0 L1755.9,855.9 L1757.9,855.9 L1759.9,855.9 L1761.9,855.9 L1763.9,855.9 L1765.9,855.9 L1767.9,855.9 L1769.9,855.9 L1771.9,855.8 L1773.9,855.8 L1775.9,855.8 L1777.9,855.8 L1779.8,856.7 L1781.6,857.6 L1783.4,858.5 L1785.2,859.4 L1787.1,860.4 L1788.9,861.4 L1790.6,862.4 L1792.4,863.4 L1794.2,864.4 L1796.0,865.4 L1797.7,866.5 L1799.5,867.5 L1802.0,862.0 L1803.5,857.0 L1805.5,857.0 L1807.5,857.0 L1809.5,857.0 L1811.5,857.0 L1813.5,857.0 L1815.5,857.0 L1817.5,857.0 L1819.5,857.0 L1821.5,857.0 L1823.5,857.0 L1825.5,857.0 L1827.5,857.0 L1829.5,857.0 L1831.5,857.0 L1833.5,857.0 L1835.5,857.0 L1837.5,856.9 L1839.5,856.9 L1841.5,856.9 L1843.6,856.9 L1845.6,856.9 L1847.6,856.9 L1849.6,856.9 L1851.6,856.9 L1853.6,856.9 L1855.6,856.8 L1857.6,856.8 L1859.6,856.8 L1861.6,856.8 L1863.6,856.8 L1865.6,856.8 L1867.6,856.7 L1869.6,856.7 L1871.6,856.7 L1873.6,856.7 L1875.6,856.7 L1877.6,856.6 L1879.6,856.6 L1881.6,856.6 L1883.6,856.6 L1885.6,856.6 L1887.6,856.5 L1889.6,856.5 L1891.6,856.5 L1893.6,856.5 L1895.7,856.4 L1897.7,856.4 L1899.7,856.4 L1901.7,856.4 L1903.7,856.3 L1905.7,856.3 L1907.7,856.3 L1909.7,856.2 L1911.7,856.2 L1913.7,856.2 L1915.7,856.2 L1917.7,856.1 L1919.7,856.1 L1921.7,856.1 L1923.7,856.0 L1925.7,856.0 L1927.7,856.0 L1929.7,856.0 L1931.7,855.9 L1933.7,855.9 L1935.7,855.9 L1937.8,855.8 L1939.8,855.8 L1941.8,855.8 L1943.8,855.7 L1945.8,855.7 L1947.8,855.7 L1949.8,855.6 L1951.8,855.6 L1953.8,855.6 L1955.8,855.6 L1957.8,855.5 L1959.8,855.5 L1961.8,855.5 L1963.8,855.4 L1965.8,855.4 L1967.8,855.4 L1969.8,855.3 L1971.8,855.3 L1973.8,855.3 L1975.8,855.2 L1977.9,855.2 L1979.9,855.2 L1981.9,855.1 L1983.9,855.1 L1985.9,855.1 L1987.9,855.0 L1989.9,855.0 L1991.9,855.0 L1993.9,854.9 L1995.9,854.9 L1997.9,854.9 L1999.9,854.8 L2001.9,854.8 L2003.9,854.8 L2005.9,854.8 L2007.9,854.7 L2009.9,854.7 L2011.9,854.7 L2013.9,854.6 L2015.9,854.6 L2017.9,854.6 L2019.9,854.5 L2022.0,854.5 L2024.0,854.5 L2026.0,854.5 L2028.0,854.4 L2030.0,854.4 L2032.0,854.4 L2034.0,854.4 L2036.0,854.3 L2038.0,854.3 L2040.0,854.3 L2042.0,854.3 L2044.0,854.2 L2046.0,854.2" stroke="#00ff00"/>
<path d="M186.0,1182.2 L188.0,1182.1 L190.0,1182.0 L192.0,1182.0 L194.0,1181.9 L196.0,1181.8 L198.0,1181.8 L200.0,1181.7 L202.0,1181.7 L204.0,1181.6 L206.0,1181.6 L208.0,1181.5 L210.0,1181.5 L212.0,1181.5 L214.0,1181.4 L216.0,1181.4 L218.0,1181.4 L220.0,1181.4 L222.0,1181.3 L224.0,1181.3 L226.0,1181.3 L228.0,1181.3 L230.0,1181.3 L232.0,1181.3 L234.0,1181.3 L236.0,1181.3 L238.0,1181.3 L240.0,1181.3 L242.0,1181.3 L244.0,1181.3 L246.0,1181.3 L248.0,1181.3 L250.0,1181.3 L252.0,1181.3 L254.0,1181.3 L256.0,1181.4 L258.0,1181.4 L260.0,1181.4 L262.0,1181.4 L264.0,1181.4 L266.0,1181.4 L268.0,1181.5 L270.0,1181.5 L272.0,1181.5 L274.0,1181.5 L276.0,1181.5 L278.0,1181.6 L280.0,1181.6 L282.0,1181.6 L284.0,1181.6 L286.0,1181.6 L288.0,1181.7 L290.0,1181.7 L292.0,1181.7 L294.0,1181.7 L296.0,1181.7 L298.0,1181.8 L300.0,1181.8 L302.0,1181.8 L304.0,1181.8 L306.0,1181.8 L308.0,1181.8 L310.0,1181.8 L312.0,1181.8 L314.0,1181.8 L316.0,1181.8 L318.0,1181.8 L320.0,1181.8 L322.0,1181.8 L324.0,1181.8 L326.0,1181.8 L328.0,1181.8 L330.0,1181.8 L332.0,1181.8 L334.0,1181.8 L336.0,1181.7 L338.0,1181.7 L340.0,1181.7 L342.0,1181.7 L344.0,1181.6 L346.0,1181.6 L348.0,1181.6 L350.0,1181.5 L352.0,1181.5 L354.0,1181.4 L356.0,1181.4 L358.0,1181.3 L360.0,1181.2 L362.0,1181.2 L364.0,1181.1 L366.0,1181.0 L368.0,1181.0 L370.0,1180.9 L372.0,1180.8 L374.0,1180.7 L376.0,1180.6 L378.0,1180.5 L380.0,1180.4 L382.0,1180.3 L384.0,1180.2 L386.0,1180.0 L388.0,1179.9 L390.0,1179.8 L392.0,1179.7 L394.0,1179.5 L396.0,1179.4 L398.0,1179.3 L400.0,1179.1 L402.0,1179.0 L404.0,1178.8 L406.0,1178.7 L408.0,1178.6 L409.9,1178.4 L411.9,1178.3 L413.9,1178.2 L415.9,1178.1 L417.9,1177.9 L419.9,1177.8 L421.9,1177.7 L423.9,1177.6 L425.9,1177.5 L427.9,1177.4 L429.9,1177.3 L431.9,1177.2 L433.9,1177.1 L435.9,1177.1 L437.9,1177.0 L439.9,1176.9 L441.9,1176.9 L443.9,1176.8 L445.9,1176.8 L447.9,1176.8 L449.9,1176.8 L451.8,1176.8 L453.8,1176.8 L455.8,1176.8 L457.8,1176.8 L459.8,1176.9 L461.8,1176.9 L463.8,1177.0 L465.8,1177.1 L467.8,1177.2 L469.7,1177.3 L471.7,1177.4 L473.7,1177.6 L475.7,1177.7 L477.7,1177.9 L479.7,1178.0 L481.7,1178.2 L483.6,1178.4 L485.6,1178.5 L487.6,1178.7 L489.6,1178.9 L491.6,1179.1 L493.6,1179.3 L495.6,1179.5 L497.6,1179.7 L499.5,1179.9 L501.5,1180.1 L503.5,1180.3 L505.5,1180.5 L507.5,1180.7 L509.5,1180.8 L511.5,1181.0 L513.5,1181.2 L515.5,1181.4 L517.5,1181.5 L519.5,1181.6 L521.5,1181.8 L523.5,1181.9 L525.5,1182.0 L527.5,1182.1 L529.5,1182.2 L531.5,1182.3 L533.5,1182.4 L535.5,1182.5 L537.5,1182.6 L539.5,1182.6 L541.5,1182.7 L543.5,1182.7 L545.5,1182.8 L547.5,1182.8 L549.5,1182.8 L551.5,1182.8 L553.5,1182.8 L555.5,1182.8 L557.5,1182.7 L559.5,1182.7 L561.5,1182.6 L563.5,1182.6 L565.5,1182.5 L567.5,1182.4 L569.5,1182.3 L571.5,1182.2 L573.5,1182.1 L575.5,1181.9 L577.5,1181.8 L579.5,1181.6 L581.5,1181.5 L583.5,1181.3 L585.5,1181.1 L587.4,1180.9 L589.4,1180.6 L591.4,1180.4 L593.4,1180.1 L595.4,1179.9 L597.3,1179.6 L599.3,1179.3 L601.3,1179.0 L603.2,1178.7 L605.2,1178.3 L607.2,1178.0 L609.1,1177.6 L611.1,1177.2 L613.0,1176.8 L615.0,1176.4 L616.9,1175.9 L618.8,1175.5 L620.8,1175.0 L622.7,1174.5 L624.6,1174.0 L626.6,1173.5 L628.5,1173.0 L630.4,1172.4 L632.3,1171.9 L634.2,1171.3 L636.1,1170.7 L638.0,1170.0 L639.9,1169.4 L641.8,1168.7 L643.7,1168.0 L645.6,1167.3 L647.5,1166.6 L649.3,1165.9 L651.2,1165.1 L653.1,1164.4 L654.9,1163.6 L656.8,1162.8 L658.6,1161.9 L660.5,1161.1 L662.3,1160.3 L664.1,1159.4 L665.9,1158.5 L667.7,1157.7 L669.5,1156.8 L671.3,1155.9 L673.1,1155.0 L674.9,1154.1 L676.6,1153.1 L678.4,1152.2 L680.2,1151.3 L681.9,1150.4 L683.6,1149.4 L685.4,1148.5 L687.1,1147.5 L688.8,1146.5 L690.5,1145.5 L692.1,1144.5 L693.8,1143.5 L695.5,1142.4 L697.2,1141.4 L698.8,1140.2 L700.4,1139.1 L702.1,1138.0 L703.7,1136.8 L705.3,1135.6 L706.9,1134.4 L708.5,1133.2 L710.0,1131.9 L711.6,1130.6 L713.1,1129.3 L714.6,1128.0 L716.2,1126.7 L717.7,1125.3 L719.1,1123.9 L720.6,1122.5 L722.0,1121.1 L723.4,1119.7 L724.9,1118.3 L726.2,1116.8 L727.6,1115.4 L728.9,1113.9 L730.3,1112.4 L731.6,1110.9 L732.9,1109.3 L734.1,1107.8 L735.4,1106.2 L736.6,1104.7 L737.8,1103.1 L739.0,1101.5 L740.2,1099.9 L741.4,1098.3 L742.5,1096.7 L743.7,1095.0 L744.8,1093.4 L745.9,1091.7 L747.0,1090.1 L748.1,1088.4 L749.1,1086.7 L750.2,1085.0 L751.2,1083.4 L752.3,1081.6 L753.3,1079.9 L754.3,1078.2 L755.3,1076.5 L756.3,1074.8 L757.3,1073.0 L758.3,1071.3 L759.2,1069.5 L760.2,1067.8 L761.2,1066.0 L762.1,1064.3 L763.0,1062.5 L764.0,1060.7 L764.9,1059.0 L765.8,1057.2 L766.8,1055.4 L767.7,1053.6 L768.6,1051.9 L769.5,1050.1 L770.4,1048.3 L771.3,1046.5 L772.2,1044.7 L773.1,1042.9 L774.0,1041.1 L774.9,1039.3 L775.8,1037.6 L776.6,1035.8 L777.5,1034.0 L778.4,1032.2 L779.3,1030.4 L780.2,1028.6 L781.0,1026.8 L781.9,1025.0 L782.8,1023.2 L783.7,1021.4 L784.5,1019.6 L785.4,1017.8 L786.3,1016.0 L787.1,1014.2 L788.0,1012.4 L788.9,1010.6 L789.7,1008.8 L790.6,1007.0 L791.5,1005.2 L792.3,1003.4 L793.2,1001.6 L794.1,999.8 L794.9,998.0 L795.8,996.2 L796.7,994.4 L797.5,992.5 L798.4,990.7 L799.3,988.9 L800.1,987.1 L801.0,985.3 L801.9,983.5 L802.8,981.8 L803.7,980.0 L804.5,978.2 L805.4,976.4 L806.3,974.6 L807.2,972.8 L808.1,971.0 L809.0,969.2 L809.9,967.4 L810.8,965.6 L811.7,963.8 L812.6,962.0 L813.5,960.3 L814.4,958.5 L815.3,956.7 L816.2,954.9 L817.1,953.1 L818.1,951.4 L819.0,949.6 L819.9,947.8 L820.9,946.1 L821.8,944.3 L822.8,942.6 L823.7,940.8 L824.7,939.1 L825.6,937.3 L826.6,935.6 L827.6,933.8 L828.6,932.1 L829.6,930.4 L830.6,928.6 L831.6,926.9 L832.6,925.2 L833.6,923.5 L834.7,921.8 L835.7,920.1 L836.7,918.4 L837.8,916.7 L838.9,915.0 L839.9,913.3 L841.0,911.6 L842.1,909.9 L843.2,908.3 L844.3,906.6 L845.4,905.0 L846.6,903.3 L847.7,901.7 L848.9,900.0 L850.0,898.4 L851.2,896.8 L852.4,895.2 L853.6,893.6 L854.8,892.0 L856.0,890.4 L857.2,888.8 L858.5,887.2 L859.8,885.7 L861.0,884.2 L862.4,882.7 L863.7,881.2 L865.1,879.8 L866.5,878.4 L867.9,877.0 L869.3,875.6 L870.8,874.3 L872.3,873.0 L873.9,871.8 L875.5,870.6 L877.1,869.5 L878.8,868.4 L880.5,867.3 L882.3,866.3 L884.1,865.4 L885.9,864.5 L887.8,863.7 L889.6,863.0 L891.6,862.4 L893.5,861.9 L895.5,861.5 L897.4,861.3 L899.4,861.1 L901.4,861.2 L903.3,861.3 L905.3,861.6 L907.2,861.9 L909.1,862.4 L911.0,863.0 L912.8,863.7 L914.6,864.5 L916.4,865.3 L918.0,866.3 L919.7,867.3 L921.3,868.4 L922.8,869.6 L924.3,870.8 L925.7,872.1 L927.1,873.4 L928.5,874.9 L929.8,876.3 L931.1,877.8 L932.4,879.4 L933.6,881.0 L934.8,882.6 L936.0,884.3 L937.1,886.0 L938.2,887.7 L939.3,889.4 L940.4,891.1 L941.4,892.9 L942.5,894.7 L943.5,896.4 L944.5,898.2 L945.5,900.0 L946.5,901.8 L947.5,903.5 L948.4,905.3 L949.4,907.1 L950.3,908.9 L951.3,910.7 L952.2,912.5 L953.1,914.2 L954.0,916.0 L954.9,917.8 L955.8,919.6 L956.7,921.4 L957.6,923.2 L958.5,925.0 L959.4,926.7 L960.2,928.5 L961.1,930.3 L962.0,932.1 L962.9,933.9 L963.8,935.6 L964.6,937.4 L965.5,939.2 L966.4,941.0 L967.2,942.8 L968.1,944.5 L969.0,946.3 L969.8,948.1 L970.7,949.9 L971.5,951.6 L972.4,953.4 L973.2,955.2 L974.1,957.0 L974.9,958.7 L975.8,960.5 L976.6,962.3 L977.5,964.1 L978.3,965.9 L979.2,967.7 L980.0,969.4 L980.9,971.2 L981.7,973.0 L982.6,974.8 L983.4,976.6 L984.2,978.4 L985.1,980.2 L985.9,982.0 L986.8,983.8 L987.6,985.6 L988.4,987.4 L989.3,989.2 L990.1,991.1 L991.0,992.9 L991.8,994.7 L992.6,996.5 L993.5,998.4 L994.3,1000.2 L995.1,1002.1 L996.0,1003.9 L996.8,1005.7 L997.7,1007.6 L998.5,1009.5 L999.3,1011.3 L1000.2,1013.2 L1001.0,1015.1 L1001.9,1016.9 L1002.7,1018.8 L1003.6,1020.7 L1004.4,1022.5 L1005.3,1024.4 L1006.2,1026.3 L1007.1,1028.1 L1008.0,1030.0 L1008.9,1031.8 L1009.8,1033.6 L1010.7,1035.4 L1011.6,1037.3 L1012.6,1039.0 L1013.6,1040.8 L1014.6,1042.6 L1015.6,1044.3 L1016.6,1046.1 L1017.6,1047.8 L1018.7,1049.5 L1019.7,1051.1 L1020.8,1052.8 L1022.0,1054.4 L1023.1,1056.0 L1024.3,1057.6 L1025.5,1059.1 L1026.7,1060.6 L1027.9,1062.1 L1029.2,1063.5 L1030.5,1065.0 L1031.8,1066.3 L1033.2,1067.7 L1034.6,1069.0 L1036.0,1070.3 L1037.4,1071.5 L1038.9,1072.7 L1040.4,1073.9 L1042.0,1075.0 L1043.6,1076.1 L1045.2,1077.1 L1046.9,1078.1 L1048.6,1079.0 L1050.3,1079.9 L1052.1,1080.8 L1053.9,1081.6 L1055.8,1082.3 L1057.7,1083.0 L1059.6,1083.7 L1061.5,1084.4 L1063.4,1085.0 L1065.4,1085.6 L1067.4,1086.2 L1069.4,1086.7 L1071.4,1087.2 L1073.4,1087.7 L1075.4,1088.1 L1077.5,1088.6 L1079.5,1089.0 L1081.5,1089.4 L1083.6,1089.8 L1085.6,1090.1 L1087.7,1090.5 L1089.7,1090.9 L1091.7,1091.2 L1093.7,1091.5 L1095.7,1091.8 L1097.7,1092.2 L1099.7,1092.5 L1101.7,1092.8 L1103.6,1093.1 L1105.6,1093.4 L1107.5,1093.7 L1109.4,1094.1 L1111.4,1094.4 L1113.3,1094.7 L1115.2,1095.0 L1117.1,1095.4 L1119.1,1095.7 L1121.0,1096.0 L1122.9,1096.4 L1124.8,1096.8 L1126.7,1097.1 L1128.6,1097.5 L1130.5,1097.9 L1132.5,1098.4 L1134.4,1098.8 L1136.3,1099.2 L1138.3,1099.7 L1140.2,1100.2 L1142.2,1100.7 L1144.1,1101.2 L1146.0,1101.8 L1148.0,1102.4 L1149.9,1103.0 L1151.8,1103.6 L1153.7,1104.3 L1155.6,1105.0 L1157.5,1105.7 L1159.4,1106.4 L1161.2,1107.2 L1163.1,1108.0 L1164.9,1108.9 L1166.7,1109.8 L1168.4,1110.7 L1170.2,1111.7 L1171.9,1112.7 L1173.6,1113.8 L1175.2,1114.9 L1176.8,1116.0 L1178.4,1117.2 L1180.0,1118.4 L1181.5,1119.7 L1183.0,1121.0 L1184.4,1122.4 L1185.9,1123.8 L1187.3,1125.2 L1188.6,1126.6 L1190.0,1128.1 L1191.3,1129.6 L1192.6,1131.1 L1193.9,1132.7 L1195.1,1134.3 L1196.3,1135.8 L1197.5,1137.4 L1198.7,1139.0 L1199.9,1140.7 L1201.0,1142.3 L1202.1,1144.0 L1203.3,1145.6 L1204.4,1147.3 L1205.4,1148.9 L1206.5,1150.6 L1207.6,1152.3 L1208.7,1154.0 L1209.7,1155.7 L1210.8,1157.4 L1211.9,1159.1 L1212.9,1160.8 L1214.0,1162.5 L1215.0,1164.2 L1216.1,1165.8 L1217.2,1167.5 L1218.3,1169.2 L1219.4,1170.9 L1220.5,1172.5 L1221.6,1174.2 L1222.8,1175.8 L1223.9,1177.5 L1225.1,1179.1 L1226.3,1180.7 L1227.5,1182.3 L1229.6,1181.3 L1231.5,1180.2 L1233.5,1179.4 L1235.3,1178.9 L1237.2,1178.9 L1239.1,1179.4 L1241.0,1180.3 L1242.9,1181.3 L1245.0,1182.3 L1247.0,1182.3 L1249.0,1182.3 L1251.0,1182.3 L1253.0,1182.3 L1255.0,1182.3 L1257.0,1182.3 L1259.0,1182.3 L1261.0,1182.3 L1263.0,1182.3 L1265.0,1182.3 L1267.1,1182.3 L1269.1,1182.3 L1271.1,1182.3 L1273.1,1182.3 L1275.1,1182.3 L1277.1,1182.3 L1279.1,1182.3 L1281.1,1182.3 L1283.1,1182.3 L1285.1,1182.3 L1287.1,1182.4 L1289.1,1182.4 L1291.1,1182.4 L1293.1,1182.4 L1295.1,1182.4 L1297.1,1182.4 L1299.1,1182.4 L1301.1,1182.4 L1303.1,1182.4 L1305.1,1182.4 L1307.1,1182.4 L1309.2,1182.5 L1311.2,1182.5 L1313.2,1182.5 L1315.2,1182.5 L1317.2,1182.5 L1319.2,1182.5 L1321.2,1182.5 L1323.2,1182.5 L1325.2,1182.5 L1327.2,1182.6 L1329.2,1182.6 L1331.2,1182.6 L1333.2,1182.6 L1335.2,1182.6 L1337.2,1182.6 L1339.2,1182.6 L1341.2,1182.6 L1343.2,1182.6 L1345.2,1182.6 L1347.2,1182.7 L1349.2,1182.7 L1351.2,1182.7 L1353.3,1182.7 L1355.3,1182.7 L1357.3,1182.7 L1359.3,1182.7 L1361.3,1182.7 L1363.3,1182.7 L1365.3,1182.7 L1367.3,1182.7 L1369.3,1182.7 L1371.3,1182.8 L1373.3,1182.8 L1375.3,1182.8 L1377.3,1182.8 L1379.3,1182.8 L1381.3,1182.8 L1383.3,1182.8 L1385.3,1182.8 L1387.3,1182.8 L1389.3,1182.8 L1391.4,1182.8 L1393.4,1182.8 L1395.4,1182.8 L1397.4,1182.8 L1399.4,1182.8 L1401.4,1182.8 L1403.4,1182.8 L1405.4,1182.8 L1407.4,1182.8 L1409.4,1182.8 L1411.4,1182.7 L1413.4,1182.7 L1415.4,1182.7 L1417.4,1182.7 L1419.4,1182.7 L1421.4,1182.7 L1423.4,1182.7 L1425.5,1182.7 L1427.5,1182.7 L1429.5,1182.6 L1431.5,1182.6 L1433.5,1182.6 L1435.5,1182.6 L1437.5,1182.6 L1439.5,1182.6 L1441.5,1182.5 L1443.5,1182.5 L1445.5,1182.5 L1447.5,1182.5 L1449.5,1182.4 L1451.5,1182.4 L1453.5,1182.4 L1455.6,1182.3 L1457.6,1182.3 L1459.6,1182.3 L1461.6,1182.3 L1463.6,1182.2 L1465.6,1182.2 L1467.6,1182.2 L1469.6,1182.1 L1471.6,1182.1 L1473.6,1182.1 L1475.6,1182.0 L1477.6,1182.0 L1479.6,1182.0 L1481.6,1181.9 L1483.6,1181.9 L1485.7,1181.9 L1487.7,1181.8 L1489.7,1181.8 L1491.7,1181.8 L1493.7,1181.8 L1495.7,1181.8 L1497.7,1181.7 L1499.7,1181.7 L1501.7,1181.7 L1503.7,1181.7 L1505.7,1181.7 L1507.7,1181.7 L1509.7,1181.7 L1511.7,1181.7 L1513.7,1181.7 L1515.7,1181.7 L1517.7,1181.7 L1519.7,1181.7 L1521.7,1181.8 L1523.7,1181.8 L1525.7,1181.8 L1527.7,1181.8 L1529.7,1181.9 L1531.7,1181.9 L1533.7,1182.0 L1535.7,1182.0 L1537.7,1182.1 L1539.7,1182.2 L1541.7,1182.2 L1543.7,1182.3 L1545.7,1182.4 L1547.7,1182.5 L1549.7,1182.6 L1551.7,1182.7 L1553.7,1182.8 L1555.7,1182.9 L1557.7,1183.0 L1559.7,1183.2 L1561.7,1183.3 L1563.7,1183.4 L1565.7,1183.6 L1567.7,1183.8 L1569.6,1183.9 L1571.6,1184.1 L1573.6,1184.3 L1575.6,1184.5 L1577.6,1184.7 L1579.6,1184.9 L1581.6,1185.1 L1583.6,1185.3 L1585.5,1185.6 L1587.5,1185.8 L1589.5,1186.1 L1591.5,1186.3 L1593.5,1186.6 L1595.4,1186.9 L1597.4,1187.2 L1599.4,1187.5 L1601.4,1187.8 L1603.4,1188.2 L1605.3,1188.5 L1607.3,1188.9 L1609.3,1189.2 L1611.3,1189.6 L1613.2,1190.0 L1615.2,1190.4 L1617.2,1190.8 L1619.1,1191.2 L1621.1,1191.6 L1623.1,1192.1 L1625.0,1192.5 L1627.0,1193.0 L1632.0,1187.0 L1636.0,1181.5 L1638.0,1181.6 L1640.0,1181.6 L1642.0,1181.7 L1644.0,1181.7 L1646.0,1181.8 L1648.0,1181.9 L1650.0,1181.9 L1652.0,1182.0 L1654.0,1182.0 L1656.0,1182.1 L1658.0,1182.1 L1660.0,1182.2 L1662.0,1182.2 L1664.0,1182.3 L1666.0,1182.3 L1668.0,1182.3 L1670.0,1182.4 L1672.0,1182.4 L1674.0,1182.5 L1676.0,1182.5 L1678.0,1182.5 L1680.0,1182.6 L1682.0,1182.6 L1684.0,1182.6 L1686.0,1182.7 L1688.0,1182.7 L1690.0,1182.7 L1692.0,1182.7 L1694.0,1182.8 L1696.0,1182.8 L1698.0,1182.8 L1700.0,1182.8 L1702.0,1182.9 L1704.0,1182.9 L1706.0,1182.9 L1708.0,1182.9 L1710.0,1182.9 L1712.0,1183.0 L1714.0,1183.0 L1716.0,1183.0 L1718.0,1183.0 L1720.0,1183.0 L1722.0,1183.0 L1724.0,1183.0 L1726.0,1183.0 L1728.0,1183.0 L1730.0,1183.0 L1732.0,1183.1 L1734.0,1183.1 L1736.0,1183.1 L1738.0,1183.1 L1740.0,1183.1 L1742.0,1183.1 L1744.0,1183.1 L1746.0,1183.1 L1748.0,1183.1 L1750.0,1183.1 L1752.0,1183.1 L1754.0,1183.1 L1756.0,1183.1 L1758.0,1183.1 L1760.0,1183.1 L1762.0,1183.1 L1764.0,1183.0 L1766.0,1183.0 L1768.0,1183.0 L1770.0,1183.0 L1772.0,1183.0 L1774.0,1183.0 L1776.0,1183.0 L1778.0,1183.0 L1780.0,1183.0 L1782.0,1183.0 L1784.0,1182.9 L1786.0,1182.9 L1788.0,1182.9 L1790.0,1182.9 L1792.0,1182.9 L1794.0,1182.9 L1796.0,1182.9 L1798.0,1182.8 L1800.0,1182.8 L1802.0,1182.8 L1804.0,1182.8 L1806.0,1182.8 L1808.0,1182.8 L1810.0,1182.7 L1812.0,1182.7 L1814.0,1182.7 L1816.0,1182.7 L1818.0,1182.7 L1820.0,1182.7 L1822.0,1182.6 L1824.0,1182.6 L1826.0,1182.6 L1828.0,1182.6 L1830.0,1182.5 L1832.0,1182.5 L1834.0,1182.5 L1836.0,1182.5 L1838.0,1182.5 L1840.0,1182.4 L1842.0,1182.4 L1844.0,1182.4 L1846.0,1182.4 L1848.0,1182.4 L1850.0,1182.3 L1852.0,1182.3 L1854.0,1182.3 L1856.0,1182.3 L1858.0,1182.2 L1860.0,1182.2 L1862.0,1182.2 L1864.0,1182.2 L1866.0,1182.2 L1868.0,1182.1 L1870.0,1182.1 L1872.0,1182.1 L1874.0,1182.1 L1876.0,1182.0 L1878.0,1182.0 L1880.0,1182.0 L1882.0,1182.0 L1884.0,1182.0 L1886.0,1181.9 L1888.0,1181.9 L1890.0,1181.9 L1892.0,1181.9 L1894.0,1181.8 L1896.0,1181.8 L1898.0,1181.8 L1900.0,1181.8 L1902.0,1181.8 L1904.0,1181.8 L1906.0,1181.7 L1908.0,1181.7 L1910.0,1181.7 L1912.0,1181.7 L1914.0,1181.7 L1916.0,1181.6 L1918.0,1181.6 L1920.0,1181.6 L1922.0,1181.6 L1924.0,1181.6 L1926.0,1181.6 L1928.0,1181.5 L1930.0,1181.5 L1932.0,1181.5 L1934.0,1181.5 L1936.0,1181.5 L1938.0,1181.5 L1940.0,1181.5 L1942.0,1181.5 L1944.0,1181.4 L1946.0,1181.4 L1948.0,1181.4 L1950.0,1181.4 L1952.0,1181.4 L1954.0,1181.4 L1956.0,1181.4 L1958.0,1181.4 L1960.0,1181.4 L1962.0,1181.4 L1964.0,1181.4 L1966.0,1181.4 L1968.0,1181.4 L1970.0,1181.4 L1972.0,1181.4 L1974.0,1181.4 L1976.0,1181.4 L1978.0,1181.4 L1980.0,1181.4 L1982.0,1181.4 L1984.0,1181.4 L1986.0,1181.4 L1988.0,1181.4 L1990.0,1181.4 L1992.0,1181.4 L1994.0,1181.4 L1996.0,1181.4 L1998.0,1181.4 L2000.0,1181.4 L2002.0,1181.5 L2004.0,1181.5 L2006.0,1181.5 L2008.0,1181.5 L2010.0,1181.5 L2012.0,1181.5 L2014.0,1181.6 L2016.0,1181.6 L2018.0,1181.6 L2020.0,1181.6 L2022.0,1181.6 L2024.0,1181.7 L2026.0,1181.7 L2028.0,1181.7 L2030.0,1181.7 L2032.0,1181.8 L2034.0,1181.8 L2036.0,1181.8 L2038.0,1181.9 L2040.0,1181.9 L2042.0,1181.9 L2044.0,1182.0 L2046.0,1182.0" stroke="#ff0000"/>
<path d="M186.0,1504.8 L188.0,1504.7 L190.0,1504.7 L192.0,1504.6 L194.0,1504.6 L196.0,1504.5 L198.0,1504.5 L200.0,1504.4 L202.0,1504.4 L204.0,1504.4 L206.0,1504.3 L208.0,1504.3 L210.0,1504.3 L212.0,1504.3 L214.0,1504.3 L216.0,1504.2 L218.0,1504.2 L220.0,1504.2 L222.0,1504.2 L224.0,1504.2 L226.0,1504.2 L228.0,1504.2 L230.0,1504.2 L232.0,1504.2 L234.0,1504.3 L236.0,1504.3 L238.0,1504.3 L240.0,1504.3 L242.0,1504.3 L244.0,1504.3 L246.0,1504.3 L248.0,1504.4 L250.0,1504.4 L252.0,1504.4 L254.0,1504.4 L256.0,1504.5 L258.0,1504.5 L260.0,1504.5 L262.1,1504.5 L264.1,1504.6 L266.1,1504.6 L268.1,1504.6 L270.1,1504.6 L272.1,1504.7 L274.1,1504.7 L276.1,1504.7 L278.1,1504.7 L280.1,1504.7 L282.1,1504.8 L284.1,1504.8 L286.1,1504.8 L288.1,1504.8 L290.1,1504.8 L292.1,1504.9 L294.1,1504.9 L296.1,1504.9 L298.1,1504.9 L300.1,1504.9 L302.2,1504.9 L304.2,1504.9 L306.2,1504.9 L308.2,1504.9 L310.2,1504.9 L312.2,1504.9 L314.2,1504.9 L316.2,1504.9 L318.2,1504.9 L320.2,1504.8 L322.2,1504.8 L324.2,1504.8 L326.2,1504.8 L328.2,1504.7 L330.2,1504.7 L332.2,1504.6 L334.2,1504.6 L336.2,1504.6 L338.2,1504.5 L340.2,1504.4 L342.2,1504.4 L344.2,1504.3 L346.2,1504.2 L348.2,1504.2 L350.2,1504.1 L352.2,1504.0 L354.2,1503.9 L356.2,1503.8 L358.2,1503.7 L360.2,1503.6 L362.2,1503.5 L364.2,1503.4 L366.1,1503.2 L368.1,1503.1 L370.1,1503.0 L372.1,1502.8 L374.1,1502.7 L376.1,1502.5 L378.1,1502.4 L380.1,1502.2 L382.1,1502.0 L384.1,1501.8 L386.0,1501.6 L388.0,1501.4 L390.0,1501.2 L392.0,1501.0 L394.0,1500.8 L396.0,1500.6 L398.0,1500.3 L399.9,1500.1 L401.9,1499.8 L403.9,1499.6 L405.9,1499.3 L407.9,1499.0 L409.8,1498.7 L411.8,1498.5 L413.8,1498.2 L415.8,1497.9 L417.8,1497.6 L419.7,1497.2 L421.7,1496.9 L423.7,1496.6 L425.7,1496.2 L427.7,1495.9 L429.6,1495.5 L431.6,1495.2 L433.6,1494.8 L435.6,1494.5 L437.5,1494.1 L439.5,1493.7 L441.5,1493.3 L443.5,1492.9 L445.4,1492.6 L447.4,1492.2 L449.4,1491.8 L451.4,1491.5 L453.3,1491.1 L455.3,1490.8 L457.3,1490.5 L459.2,1490.3 L461.2,1490.1 L463.1,1489.9 L465.1,1489.7 L467.0,1489.6 L469.0,1489.5 L470.9,1489.5 L472.9,1489.6 L474.8,1489.7 L476.7,1489.8 L478.6,1490.0 L480.6,1490.3 L482.5,1490.6 L484.4,1491.0 L486.3,1491.5 L488.2,1492.1 L490.0,1492.7 L491.9,1493.3 L493.8,1494.0 L495.7,1494.7 L497.6,1495.5 L499.4,1496.2 L501.3,1497.0 L503.2,1497.8 L505.1,1498.6 L507.0,1499.3 L508.8,1500.1 L510.7,1500.8 L512.6,1501.5 L514.5,1502.1 L516.4,1502.7 L518.3,1503.3 L520.2,1503.7 L522.1,1504.2 L524.1,1504.5 L526.0,1504.8 L527.9,1505.0 L529.9,1505.2 L531.9,1505.3 L533.8,1505.3 L535.8,1505.4 L537.8,1505.4 L539.8,1505.3 L541.7,1505.3 L543.7,1505.2 L545.8,1505.1 L547.8,1505.0 L549.8,1505.0 L551.8,1504.9 L553.9,1504.8 L555.9,1504.7 L557.9,1504.7 L560.0,1504.6 L562.1,1504.7 L564.1,1504.7 L566.2,1504.7 L568.3,1504.8 L570.3,1504.8 L572.4,1504.9 L574.5,1505.0 L576.5,1505.0 L578.6,1505.1 L580.6,1505.1 L582.7,1505.1 L584.7,1505.1 L586.7,1505.1 L588.7,1505.0 L590.7,1504.9 L592.7,1504.8 L594.7,1504.6 L596.6,1504.3 L598.5,1504.0 L600.4,1503.7 L602.3,1503.2 L604.1,1502.7 L605.9,1502.2 L607.7,1501.5 L609.5,1500.8 L611.2,1500.0 L612.9,1499.2 L614.6,1498.2 L616.3,1497.2 L617.9,1496.2 L619.5,1495.1 L621.2,1494.0 L622.8,1492.8 L624.3,1491.6 L625.9,1490.4 L627.5,1489.1 L629.1,1487.9 L630.6,1486.6 L632.2,1485.3 L633.7,1483.9 L635.3,1482.6 L636.9,1481.3 L638.4,1480.0 L640.0,1478.7 L641.6,1477.5 L643.2,1476.2 L644.8,1474.9 L646.4,1473.7 L648.0,1472.5 L649.6,1471.2 L651.2,1470.0 L652.8,1468.8 L654.4,1467.6 L656.0,1466.3 L657.6,1465.1 L659.1,1463.9 L660.7,1462.6 L662.3,1461.4 L663.8,1460.1 L665.3,1458.8 L666.8,1457.5 L668.3,1456.2 L669.8,1454.9 L671.2,1453.6 L672.7,1452.2 L674.1,1450.8 L675.5,1449.4 L676.8,1447.9 L678.2,1446.5 L679.5,1445.0 L680.8,1443.5 L682.0,1442.0 L683.3,1440.4 L684.5,1438.9 L685.8,1437.3 L687.0,1435.7 L688.2,1434.1 L689.3,1432.5 L690.5,1430.9 L691.6,1429.2 L692.8,1427.6 L693.9,1425.9 L695.0,1424.3 L696.1,1422.6 L697.2,1420.9 L698.2,1419.2 L699.3,1417.5 L700.4,1415.8 L701.4,1414.1 L702.4,1412.4 L703.5,1410.7 L704.5,1409.0 L705.5,1407.2 L706.5,1405.5 L707.5,1403.8 L708.5,1402.1 L709.5,1400.3 L710.5,1398.6 L711.4,1396.8 L712.4,1395.1 L713.4,1393.3 L714.3,1391.6 L715.3,1389.8 L716.2,1388.0 L717.2,1386.3 L718.1,1384.5 L719.0,1382.7 L720.0,1381.0 L720.9,1379.2 L721.8,1377.4 L722.7,1375.6 L723.7,1373.8 L724.6,1372.1 L725.5,1370.3 L726.4,1368.5 L727.3,1366.7 L728.3,1364.9 L729.2,1363.2 L730.1,1361.4 L731.0,1359.6 L731.9,1357.8 L732.9,1356.0 L733.8,1354.3 L734.7,1352.5 L735.6,1350.7 L736.5,1348.9 L737.5,1347.2 L738.4,1345.4 L739.3,1343.6 L740.3,1341.9 L741.2,1340.1 L742.2,1338.3 L743.1,1336.6 L744.1,1334.8 L745.0,1333.0 L746.0,1331.3 L747.0,1329.5 L748.0,1327.8 L748.9,1326.0 L749.9,1324.3 L750.9,1322.6 L751.9,1320.8 L752.9,1319.1 L753.9,1317.4 L754.9,1315.6 L755.9,1313.9 L757.0,1312.2 L758.0,1310.5 L759.0,1308.8 L760.0,1307.0 L761.1,1305.3 L762.1,1303.6 L763.1,1301.9 L764.2,1300.2 L765.2,1298.5 L766.3,1296.8 L767.3,1295.1 L768.4,1293.4 L769.4,1291.7 L770.5,1290.0 L771.6,1288.3 L772.6,1286.6 L773.7,1284.9 L774.8,1283.2 L775.8,1281.5 L776.9,1279.8 L778.0,1278.1 L779.0,1276.4 L780.1,1274.7 L781.2,1273.1 L782.3,1271.4 L783.4,1269.7 L784.4,1268.0 L785.5,1266.3 L786.6,1264.6 L787.7,1262.9 L788.8,1261.3 L789.9,1259.6 L790.9,1257.9 L792.0,1256.2 L793.1,1254.5 L794.2,1252.9 L795.3,1251.2 L796.4,1249.5 L797.5,1247.9 L798.6,1246.2 L799.8,1244.6 L800.9,1243.0 L802.1,1241.4 L803.3,1239.8 L804.5,1238.2 L805.7,1236.6 L806.9,1235.1 L808.2,1233.6 L809.5,1232.1 L810.8,1230.6 L812.1,1229.1 L813.5,1227.7 L814.9,1226.3 L816.3,1224.9 L817.8,1223.6 L819.3,1222.2 L820.8,1221.0 L822.4,1219.7 L824.0,1218.5 L825.7,1217.3 L827.4,1216.2 L829.1,1215.1 L830.8,1214.0 L832.6,1213.0 L834.4,1212.0 L836.3,1211.1 L838.1,1210.2 L840.0,1209.4 L841.9,1208.7 L843.8,1207.9 L845.8,1207.3 L847.7,1206.7 L849.7,1206.2 L851.6,1205.8 L853.6,1205.4 L855.6,1205.1 L857.5,1204.8 L859.5,1204.7 L861.4,1204.6 L863.4,1204.6 L865.3,1204.7 L867.3,1204.8 L869.2,1205.1 L871.1,1205.4 L873.0,1205.7 L874.9,1206.2 L876.8,1206.6 L878.7,1207.2 L880.5,1207.8 L882.4,1208.4 L884.2,1209.2 L886.1,1209.9 L887.9,1210.7 L889.7,1211.5 L891.5,1212.4 L893.3,1213.3 L895.1,1214.2 L896.9,1215.2 L898.7,1216.2 L900.4,1217.2 L902.2,1218.2 L903.9,1219.3 L905.6,1220.3 L907.3,1221.4 L909.0,1222.5 L910.7,1223.6 L912.4,1224.7 L914.1,1225.8 L915.7,1226.9 L917.4,1228.1 L919.0,1229.3 L920.6,1230.4 L922.2,1231.6 L923.8,1232.8 L925.4,1234.1 L927.0,1235.3 L928.6,1236.5 L930.1,1237.8 L931.7,1239.0 L933.2,1240.3 L934.8,1241.6 L936.3,1242.9 L937.8,1244.2 L939.3,1245.5 L940.8,1246.9 L942.3,1248.2 L943.7,1249.6 L945.2,1250.9 L946.6,1252.3 L948.1,1253.7 L949.5,1255.1 L950.9,1256.5 L952.3,1257.9 L953.7,1259.3 L955.1,1260.7 L956.5,1262.2 L957.9,1263.6 L959.3,1265.1 L960.6,1266.5 L962.0,1268.0 L963.3,1269.5 L964.6,1271.0 L966.0,1272.5 L967.3,1274.0 L968.6,1275.5 L969.9,1277.0 L971.2,1278.5 L972.5,1280.0 L973.8,1281.6 L975.1,1283.1 L976.3,1284.7 L977.6,1286.2 L978.9,1287.8 L980.1,1289.3 L981.3,1290.9 L982.6,1292.5 L983.8,1294.1 L985.0,1295.7 L986.3,1297.2 L987.5,1298.8 L988.7,1300.4 L989.9,1302.0 L991.1,1303.7 L992.3,1305.3 L993.5,1306.9 L994.7,1308.5 L995.8,1310.1 L997.0,1311.7 L998.2,1313.4 L999.3,1315.0 L1000.5,1316.6 L1001.7,1318.3 L1002.8,1319.9 L1003.9,1321.6 L1005.1,1323.2 L1006.2,1324.9 L1007.3,1326.5 L1008.4,1328.2 L1009.6,1329.9 L1010.7,1331.5 L1011.8,1333.2 L1012.9,1334.9 L1013.9,1336.5 L1015.0,1338.2 L1016.1,1339.9 L1017.2,1341.6 L1018.2,1343.3 L1019.3,1345.0 L1020.4,1346.6 L1021.4,1348.3 L1022.5,1350.0 L1023.5,1351.7 L1024.6,1353.4 L1025.7,1355.1 L1026.8,1356.7 L1027.9,1358.4 L1029.0,1360.1 L1030.1,1361.7 L1031.2,1363.4 L1032.4,1365.0 L1033.5,1366.7 L1034.7,1368.3 L1035.9,1369.9 L1037.1,1371.5 L1038.4,1373.1 L1039.7,1374.6 L1040.9,1376.2 L1042.3,1377.7 L1043.6,1379.2 L1045.0,1380.7 L1046.3,1382.2 L1047.7,1383.7 L1049.2,1385.1 L1050.6,1386.5 L1052.1,1387.8 L1053.6,1389.2 L1055.1,1390.5 L1056.6,1391.8 L1058.2,1393.0 L1059.8,1394.2 L1061.4,1395.3 L1063.0,1396.5 L1064.7,1397.5 L1066.4,1398.6 L1068.1,1399.5 L1069.8,1400.5 L1071.6,1401.4 L1073.3,1402.3 L1075.1,1403.1 L1076.9,1403.9 L1078.8,1404.6 L1080.6,1405.3 L1082.5,1406.0 L1084.4,1406.7 L1086.3,1407.3 L1088.2,1407.9 L1090.1,1408.4 L1092.0,1409.0 L1093.9,1409.5 L1095.9,1410.0 L1097.9,1410.4 L1099.8,1410.9 L1101.8,1411.3 L1103.8,1411.7 L1105.7,1412.1 L1107.7,1412.5 L1109.7,1412.9 L1111.7,1413.3 L1113.7,1413.6 L1115.7,1413.9 L1117.7,1414.3 L1119.7,1414.6 L1121.6,1414.9 L1123.6,1415.2 L1125.6,1415.5 L1127.6,1415.8 L1129.6,1416.1 L1131.6,1416.4 L1133.5,1416.7 L1135.5,1417.0 L1137.5,1417.3 L1139.5,1417.6 L1141.5,1417.8 L1143.4,1418.1 L1145.4,1418.4 L1147.4,1418.6 L1149.4,1418.9 L1151.3,1419.1 L1153.3,1419.4 L1155.3,1419.6 L1157.3,1419.9 L1159.3,1420.1 L1161.2,1420.4 L1163.2,1420.6 L1165.2,1420.9 L1167.2,1421.1 L1169.1,1421.4 L1171.1,1421.7 L1173.1,1421.9 L1175.1,1422.2 L1177.0,1422.4 L1179.0,1422.7 L1181.0,1423.0 L1183.0,1423.2 L1184.9,1423.5 L1186.9,1423.8 L1188.9,1424.1 L1190.9,1424.3 L1192.9,1424.6 L1194.8,1424.9 L1196.8,1425.2 L1198.8,1425.5 L1200.8,1425.8 L1202.8,1426.2 L1204.7,1426.5 L1206.7,1426.8 L1208.7,1427.2 L1210.7,1427.5 L1212.7,1427.9 L1214.6,1428.2 L1216.6,1428.6 L1218.6,1429.0 L1220.6,1429.4 L1222.6,1429.8 L1224.5,1430.2 L1226.5,1430.6 L1228.5,1431.1 L1230.4,1431.5 L1232.4,1432.0 L1234.4,1432.5 L1236.3,1433.0 L1238.2,1433.5 L1240.2,1434.0 L1242.1,1434.6 L1244.0,1435.1 L1246.0,1435.7 L1247.9,1436.3 L1249.8,1436.9 L1251.7,1437.6 L1253.5,1438.2 L1255.4,1438.9 L1257.3,1439.6 L1259.1,1440.3 L1261.0,1441.0 L1262.8,1441.8 L1264.6,1442.6 L1266.5,1443.4 L1268.3,1444.2 L1270.0,1445.0 L1271.8,1445.9 L1273.6,1446.8 L1275.3,1447.7 L1277.1,1448.7 L1278.8,1449.7 L1280.5,1450.7 L1282.2,1451.7 L1283.8,1452.8 L1285.5,1453.9 L1287.1,1455.0 L1288.7,1456.1 L1290.3,1457.3 L1291.9,1458.5 L1293.5,1459.7 L1295.1,1461.0 L1296.6,1462.3 L1298.1,1463.6 L1299.6,1464.9 L1301.1,1466.2 L1302.6,1467.6 L1304.1,1469.0 L1305.6,1470.4 L1307.0,1471.8 L1308.5,1473.2 L1309.9,1474.6 L1311.3,1476.1 L1312.7,1477.5 L1314.2,1479.0 L1315.6,1480.4 L1317.0,1481.9 L1318.3,1483.4 L1319.7,1484.9 L1321.1,1486.3 L1322.5,1487.8 L1323.9,1489.3 L1325.2,1490.8 L1326.6,1492.2 L1328.0,1493.7 L1329.3,1495.2 L1330.7,1496.6 L1332.0,1498.1 L1333.4,1499.5 L1334.8,1500.9 L1336.1,1502.3 L1337.5,1503.7 L1339.5,1503.8 L1341.5,1503.9 L1343.5,1503.9 L1345.5,1504.0 L1347.5,1504.1 L1349.5,1504.2 L1351.5,1504.2 L1353.5,1504.3 L1355.5,1504.3 L1357.5,1504.4 L1359.5,1504.5 L1361.4,1504.5 L1363.4,1504.6 L1365.4,1504.6 L1367.4,1504.7 L1369.4,1504.7 L1371.4,1504.7 L1373.4,1504.8 L1375.4,1504.8 L1377.4,1504.8 L1379.4,1504.9 L1381.4,1504.9 L1383.4,1504.9 L1385.4,1505.0 L1387.4,1505.0 L1389.4,1505.0 L1391.4,1505.0 L1393.4,1505.0 L1395.4,1505.1 L1397.4,1505.1 L1399.4,1505.1 L1401.4,1505.1 L1403.4,1505.1 L1405.4,1505.1 L1407.4,1505.1 L1409.4,1505.1 L1411.4,1505.1 L1413.4,1505.1 L1415.4,1505.1 L1417.4,1505.1 L1419.4,1505.1 L1421.4,1505.1 L1423.4,1505.1 L1425.4,1505.1 L1427.4,1505.1 L1429.4,1505.1 L1431.4,1505.1 L1433.4,1505.1 L1435.4,1505.1 L1437.4,1505.0 L1439.4,1505.0 L1441.4,1505.0 L1443.4,1505.0 L1445.4,1505.0 L1447.4,1505.0 L1449.4,1504.9 L1451.4,1504.9 L1453.4,1504.9 L1455.4,1504.9 L1457.4,1504.8 L1459.4,1504.8 L1461.4,1504.8 L1463.4,1504.8 L1465.4,1504.8 L1467.4,1504.7 L1469.4,1504.7 L1471.4,1504.7 L1473.4,1504.6 L1475.4,1504.6 L1477.4,1504.6 L1479.4,1504.6 L1481.4,1504.5 L1483.4,1504.5 L1485.4,1504.5 L1487.4,1504.4 L1489.4,1504.4 L1491.4,1504.4 L1493.4,1504.4 L1495.4,1504.3 L1497.4,1504.3 L1499.4,1504.3 L1501.4,1504.2 L1503.4,1504.2 L1505.4,1504.2 L1507.4,1504.2 L1509.4,1504.1 L1511.4,1504.1 L1513.4,1504.1 L1515.4,1504.1 L1517.4,1504.0 L1519.4,1504.0 L1521.4,1504.0 L1523.4,1503.9 L1525.4,1503.9 L1527.4,1503.9 L1529.4,1503.9 L1531.4,1503.9 L1533.4,1503.8 L1535.4,1503.8 L1537.4,1503.8 L1539.4,1503.8 L1541.4,1503.8 L1543.4,1503.7 L1545.4,1503.7 L1547.4,1503.7 L1549.4,1503.7 L1551.4,1503.7 L1553.4,1503.7 L1555.4,1503.6 L1557.4,1503.6 L1559.4,1503.6 L1561.4,1503.6 L1563.4,1503.6 L1565.4,1503.6 L1567.4,1503.6 L1569.4,1503.6 L1571.4,1503.6 L1573.4,1503.5 L1575.4,1503.5 L1577.4,1503.5 L1579.4,1503.5 L1581.4,1503.5 L1583.4,1503.5 L1585.4,1503.5 L1587.4,1503.5 L1589.4,1503.5 L1591.4,1503.5 L1593.4,1503.5 L1595.4,1503.5 L1597.5,1503.5 L1599.5,1503.5 L1601.5,1503.5 L1603.5,1503.5 L1605.5,1503.5 L1607.5,1503.5 L1609.5,1503.5 L1611.5,1503.5 L1613.5,1503.5 L1615.5,1503.5 L1617.5,1503.5 L1619.5,1503.5 L1621.5,1503.5 L1623.5,1503.5 L1625.5,1503.5 L1627.5,1503.5 L1629.5,1503.5 L1631.5,1503.5 L1633.5,1503.5 L1635.5,1503.5 L1637.5,1503.5 L1639.5,1503.5 L1641.5,1503.5 L1643.5,1503.5 L1645.5,1503.5 L1647.5,1503.5 L1649.5,1503.5 L1651.5,1503.5 L1653.5,1503.5 L1655.5,1503.5 L1657.5,1503.5 L1659.5,1503.5 L1661.5,1503.5 L1663.5,1503.5 L1665.5,1503.5 L1667.5,1503.5 L1669.5,1503.5 L1671.5,1503.5 L1673.5,1503.5 L1675.5,1503.5 L1677.5,1503.5 L1679.5,1503.4 L1681.5,1503.4 L1683.5,1503.4 L1685.5,1503.4 L1687.5,1503.4 L1689.5,1503.4 L1691.5,1503.4 L1693.5,1503.4 L1695.5,1503.4 L1697.5,1503.4 L1699.5,1503.4 L1701.5,1503.4 L1703.5,1503.4 L1705.5,1503.4 L1707.5,1503.4 L1709.5,1503.4 L1711.5,1503.3 L1713.5,1503.3 L1715.5,1503.3 L1717.5,1503.3 L1719.5,1503.3 L1721.5,1503.3 L1723.5,1503.3 L1725.5,1503.3 L1727.5,1503.2 L1729.5,1503.2 L1731.5,1503.2 L1733.5,1503.2 L1735.5,1503.2 L1737.5,1503.2 L1739.5,1503.1 L1741.5,1503.1 L1743.5,1503.1 L1745.5,1503.5 L1747.5,1503.9 L1749.5,1504.2 L1751.4,1504.6 L1753.4,1505.0 L1755.4,1505.3 L1757.4,1505.7 L1759.4,1506.1 L1761.4,1506.4 L1763.4,1506.8 L1765.4,1507.1 L1767.4,1507.5 L1769.4,1507.9 L1771.4,1508.2 L1773.4,1508.6 L1775.3,1508.9 L1777.3,1509.3 L1779.3,1509.6 L1781.3,1510.0 L1783.3,1510.4 L1785.3,1510.7 L1787.3,1511.1 L1789.3,1511.5 L1791.3,1511.8 L1793.3,1512.2 L1795.3,1512.6 L1797.2,1513.0 L1799.2,1513.4 L1801.2,1513.8 L1803.2,1514.2 L1805.2,1514.6 L1807.2,1515.0 L1809.1,1515.4 L1811.1,1515.8 L1813.1,1516.2 L1815.1,1516.7 L1817.1,1517.1 L1819.0,1517.5 L1821.0,1518.0 L1825.0,1512.0 L1829.0,1505.0 L1831.0,1504.9 L1833.0,1504.9 L1835.0,1504.9 L1837.0,1504.8 L1839.0,1504.8 L1841.0,1504.7 L1843.0,1504.7 L1845.0,1504.7 L1847.0,1504.6 L1849.0,1504.6 L1851.0,1504.6 L1853.1,1504.5 L1855.1,1504.5 L1857.1,1504.5 L1859.1,1504.4 L1861.1,1504.4 L1863.1,1504.4 L1865.1,1504.4 L1867.1,1504.3 L1869.1,1504.3 L1871.1,1504.3 L1873.1,1504.3 L1875.1,1504.3 L1877.1,1504.3 L1879.1,1504.2 L1881.2,1504.2 L1883.2,1504.2 L1885.2,1504.2 L1887.2,1504.2 L1889.2,1504.2 L1891.2,1504.2 L1893.2,1504.2 L1895.2,1504.2 L1897.2,1504.2 L1899.2,1504.2 L1901.2,1504.2 L1903.3,1504.2 L1905.3,1504.2 L1907.3,1504.2 L1909.3,1504.1 L1911.3,1504.1 L1913.3,1504.2 L1915.3,1504.2 L1917.3,1504.2 L1919.3,1504.2 L1921.3,1504.2 L1923.4,1504.2 L1925.4,1504.2 L1927.4,1504.2 L1929.4,1504.2 L1931.4,1504.2 L1933.4,1504.2 L1935.4,1504.2 L1937.4,1504.2 L1939.4,1504.2 L1941.5,1504.2 L1943.5,1504.2 L1945.5,1504.2 L1947.5,1504.2 L1949.5,1504.2 L1951.5,1504.3 L1953.5,1504.3 L1955.5,1504.3 L1957.5,1504.3 L1959.6,1504.3 L1961.6,1504.3 L1963.6,1504.3 L1965.6,1504.3 L1967.6,1504.3 L1969.6,1504.3 L1971.6,1504.3 L1973.6,1504.3 L1975.6,1504.4 L1977.7,1504.4 L1979.7,1504.4 L1981.7,1504.4 L1983.7,1504.4 L1985.7,1504.4 L1987.7,1504.4 L1989.7,1504.4 L1991.7,1504.4 L1993.7,1504.4 L1995.8,1504.4 L1997.8,1504.4 L1999.8,1504.4 L2001.8,1504.4 L2003.8,1504.4 L2005.8,1504.4 L2007.8,1504.4 L2009.8,1504.4 L2011.8,1504.4 L2013.9,1504.4 L2015.9,1504.4 L2017.9,1504.4 L2019.9,1504.4 L2021.9,1504.4 L2023.9,1504.4 L2025.9,1504.4 L2027.9,1504.4 L2029.9,1504.4 L2031.9,1504.4 L2033.9,1504.4 L2036.0,1504.4 L2038.0,1504.4 L2040.0,1504.3 L2042.0,1504.3 L2044.0,1504.3 L2046.0,1504.3" stroke="#000000"/>
</g>
<rect x="862" y="109" width="10" height="84" fill="#000"/>
<rect x="876" y="411" width="10" height="86" fill="#000"/>
<rect x="901" y="820" width="10" height="90" fill="#000"/>
<rect x="857" y="1135" width="10" height="89" fill="#000"/>
<g fill="#000">
<rect x="181" y="24" width="10" height="1571"/>
<path d="M181,24 H2046 Q2051,24 2051,30 V36 H181 Z"/>
<rect x="2040" y="35" width="11" height="1537"/>
<rect x="181" y="1560" width="1870" height="12"/>
<rect x="446.6" y="1572" width="10" height="23.5"/>
<rect x="712.1" y="1572" width="10" height="23.5"/>
<rect x="977.7" y="1572" width="10" height="23.5"/>
<rect x="1243.3" y="1572" width="10" height="23.5"/>
<rect x="1508.8" y="1572" width="10" height="23.5"/>
<rect x="1774.4" y="1572" width="10" height="23.5"/>
<rect x="2040.0" y="1572" width="10" height="23.5"/>
<rect x="313.8" y="1572" width="10" height="8"/>
<rect x="579.4" y="1572" width="10" height="8"/>
<rect x="844.9" y="1572" width="10" height="8"/>
<rect x="1110.5" y="1572" width="10" height="8"/>
<rect x="1376.1" y="1572" width="10" height="8"/>
<rect x="1641.6" y="1572" width="10" height="8"/>
<rect x="1907.2" y="1572" width="10" height="8"/>
</g>
<g style="font-family:'Liberation Serif',serif;font-weight:bold;font-kerning:none" fill="#000">
<text transform="translate(186.0,1686.2) scale(1,1.080)" font-size="86.0" text-anchor="middle" >100</text>
<text transform="translate(451.6,1686.2) scale(1,1.080)" font-size="86.0" text-anchor="middle" >200</text>
<text transform="translate(717.1,1686.2) scale(1,1.080)" font-size="86.0" text-anchor="middle" >300</text>
<text transform="translate(982.7,1686.2) scale(1,1.080)" font-size="86.0" text-anchor="middle" >400</text>
<text transform="translate(1248.3,1686.2) scale(1,1.080)" font-size="86.0" text-anchor="middle" >500</text>
<text transform="translate(1513.8,1686.2) scale(1,1.080)" font-size="86.0" text-anchor="middle" >600</text>
<text transform="translate(1779.4,1686.2) scale(1,1.080)" font-size="86.0" text-anchor="middle" >700</text>
<text transform="translate(2045.0,1686.2) scale(1,1.080)" font-size="86.0" text-anchor="middle" >800</text>
<text transform="translate(716.2,130.2) scale(1,1.060)" font-size="86.0" text-anchor="start" >355</text>
<text transform="translate(726.8,452.9) scale(1,1.060)" font-size="86.0" text-anchor="start" >364</text>
<text transform="translate(750.0,859.8) scale(1,1.060)" font-size="86.0" text-anchor="start" >366</text>
<text transform="translate(724.4,1189.8) scale(1,1.060)" font-size="86.0" text-anchor="start" >352</text>
<text transform="translate(1415.8,487.0) scale(1,1.045)" font-size="85.3" text-anchor="start" >20% Ni/SiO</text>
<text transform="translate(1851.5,510.0) scale(1,1.045)" font-size="60.0" text-anchor="start" >2</text>
<text transform="translate(1879.9,487.0) scale(1,1.045)" font-size="85.3" text-anchor="start" >-100</text>
<text transform="translate(1418.4,810.0) scale(1,1.045)" font-size="85.3" text-anchor="start" >20% Ni/SiO</text>
<text transform="translate(1854.1,833.0) scale(1,1.045)" font-size="60.0" text-anchor="start" >2</text>
<text transform="translate(1882.5,810.0) scale(1,1.045)" font-size="85.3" text-anchor="start" >-200</text>
<text transform="translate(1438.4,1129.4) scale(1,1.045)" font-size="85.3" text-anchor="start" >20%Ni/SiO</text>
<text transform="translate(1852.8,1152.4) scale(1,1.045)" font-size="60.0" text-anchor="start" >2</text>
<text transform="translate(1881.2,1129.4) scale(1,1.045)" font-size="85.3" text-anchor="start" >-300</text>
<text transform="translate(1418.4,1460.7) scale(1,1.045)" font-size="85.3" text-anchor="start" >20% Ni/SiO</text>
<text transform="translate(1854.1,1483.7) scale(1,1.045)" font-size="60.0" text-anchor="start" >2</text>
<text transform="translate(1882.5,1460.7) scale(1,1.045)" font-size="85.3" text-anchor="start" >-400</text>
<text transform="translate(644.8,1824.7) scale(1,1.046)" font-size="126.8" text-anchor="start" >Temperature(°C)</text>
<text transform="translate(110.2,1190.2) rotate(-90) scale(1,0.975)" font-size="130.8">Intensity(a.u.)</text>
</g>
</svg>
</body></html>
